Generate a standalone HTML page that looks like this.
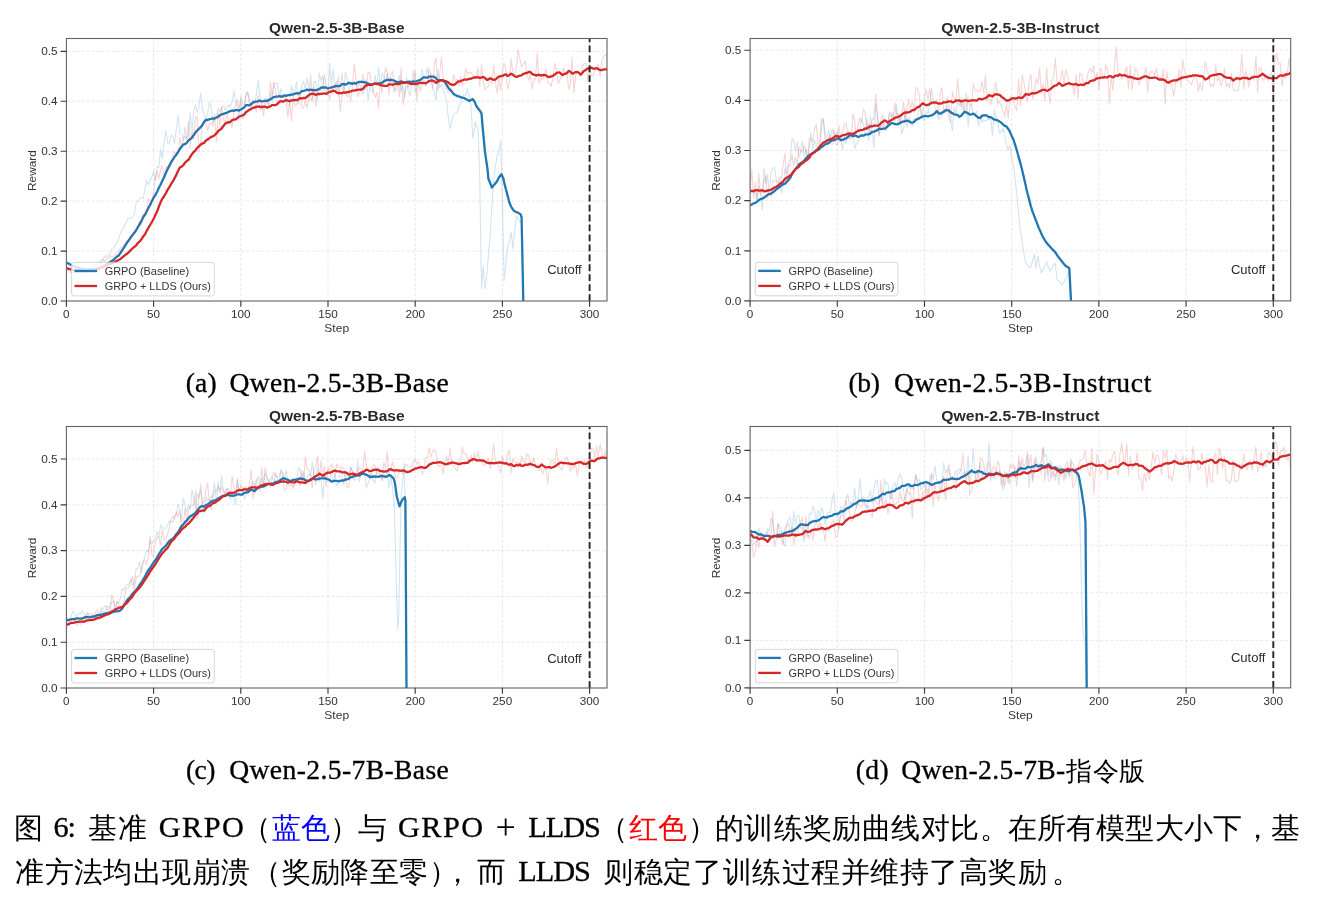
<!DOCTYPE html>
<html lang="zh"><head><meta charset="utf-8"><title>Figure 6</title>
<style>
html,body{margin:0;padding:0;background:#fff}
body{width:1318px;height:908px;position:relative;overflow:hidden;font-family:"Liberation Serif",serif;color:#000}
svg{position:absolute;left:0;top:0;display:block;will-change:transform}
.cap{position:absolute;left:0;top:0;width:1318px;height:908px;will-change:transform}
svg text{font-family:"Liberation Sans",sans-serif}
.t{position:absolute;white-space:nowrap;font-family:"Liberation Serif",serif}
.l{-webkit-text-stroke:.32px #000}
.c i{display:inline-block;font-style:normal;text-align:center;overflow:visible}
</style></head><body>
<svg width="1318" height="908" viewBox="0 0 1318 908" font-family="'Liberation Sans', sans-serif">
<g>
<path d="M153.6 301V38.5M240.8 301V38.5M328 301V38.5M415.2 301V38.5M502.4 301V38.5M589.6 301V38.5M66.4 251.1H607M66.4 201.1H607M66.4 151.2H607M66.4 101.2H607M66.4 51.3H607" stroke="#b0b0b0" stroke-opacity=".33" stroke-width=".85" stroke-dasharray="3.2 1.8" fill="none"/>
<clipPath id="clipa"><rect x="66.4" y="38.5" width="540.6" height="263.1"/></clipPath>
<g clip-path="url(#clipa)" fill="none" stroke-linejoin="round" stroke-linecap="butt">
<polyline points="66.4,267.1 68.1,269.7 69.9,269.7 71.6,273 73.4,272.1 75.1,272.1 76.9,273.6 78.6,270.4 80.4,270.4 82.1,271.9 83.8,270.2 85.6,270.2 87.3,272.5 89.1,268.8 90.8,268.4 92.6,267.4 94.3,267.5 96,265.4 97.8,264.2 99.5,261.4 101.3,260.5 103,258.9 104.8,255.7 106.5,256.5 108.3,254.8 110,254.4 111.7,248.9 113.5,247.7 115.2,245.7 117,242.7 118.7,238.6 120.5,233.4 122.2,229.7 124,226.6 125.7,223.9 127.4,219 129.2,218.8 130.9,218.1 132.7,217.1 134.4,214.1 136.2,201.8 137.9,201.3 139.6,199.1 141.4,197.7 143.1,198.7 144.9,189.6 146.6,180.1 148.4,184.9 150.1,180.5 151.9,177 153.6,170.6 155.3,181.2 157.1,166 158.8,167.6 160.6,148.9 162.3,158.6 164.1,142.7 165.8,130.4 167.6,142.6 169.3,142.9 171,135.2 172.8,136.4 174.5,143.5 176.3,129.5 178,115 179.8,134.1 181.5,133.7 183.2,140.3 185,127.4 186.7,138.8 188.5,135.6 190.2,113.2 192,129.8 193.7,110.8 195.5,104.7 197.2,112.7 198.9,107.3 200.7,92.8 202.4,109.5 204.2,113.2 205.9,121.9 207.7,112.8 209.4,102.3 211.2,106.9 212.9,122.2 214.6,120.3 216.4,116 218.1,108.2 219.9,111.6 221.6,107.3 223.4,106 225.1,110.4 226.8,107.6 228.6,104.9 230.3,107.1 232.1,102.2 233.8,90.8 235.6,101.6 237.3,105.7 239.1,119.5 240.8,100.5 242.5,118.7 244.3,112.9 246,92.6 247.8,92.8 249.5,98.7 251.3,111 253,99.5 254.8,103.2 256.5,93.4 258.2,80.4 260,97.9 261.7,106.2 263.5,109.1 265.2,98.6 267,98 268.7,104.5 270.4,92.3 272.2,102.2 273.9,82.7 275.7,83.3 277.4,83.5 279.2,97 280.9,88.9 282.7,94.6 284.4,96.9 286.1,96.4 287.9,104.4 289.6,105.3 291.4,85.8 293.1,93.4 294.9,89.2 296.6,81.8 298.4,104.3 300.1,95 301.8,85.1 303.6,81.7 305.3,88.3 307.1,78.2 308.8,87.6 310.6,101 312.3,98.1 314,81.4 315.8,82.1 317.5,100.8 319.3,73.2 321,80.7 322.8,75.8 324.5,91.1 326.3,90 328,95.8 329.7,63.3 331.5,85.2 333.2,69.6 335,88.3 336.7,81.2 338.5,96.6 340.2,85.4 342,73.5 343.7,92.3 345.4,72.5 347.2,78.7 348.9,90.4 350.7,85.6 352.4,85 354.2,81.3 355.9,85.2 357.6,87.5 359.4,83.2 361.1,90.2 362.9,94.1 364.6,85.5 366.4,79.1 368.1,100.1 369.9,86.6 371.6,90.8 373.3,92 375.1,75.3 376.8,86.1 378.6,67.8 380.3,85.1 382.1,73 383.8,77 385.6,82.1 387.3,73.2 389,82.4 390.8,77.8 392.5,83.9 394.3,92.6 396,84.3 397.8,83.1 399.5,75.6 401.2,91.6 403,84.3 404.7,98.1 406.5,77 408.2,90.6 410,96 411.7,80.7 413.5,70.4 415.2,92.2 416.9,87.6 418.7,83.2 420.4,84.4 422.2,69.3 423.9,78 425.7,77.3 427.4,67.6 429.2,81.1 430.9,73.5 432.6,88.3 434.4,93 436.1,100.1 437.9,69.4 439.6,88 441.4,84.4 443.1,90.1 444.8,94 446.6,101.2 448.3,116.9 450.1,128.7 451.8,121.5 452.7,116.2 453.6,114.8 455.3,113.2 457.1,112.5 458.8,106.2 460.5,103.9 462.3,96.2 464,94.3 465.8,95.4 467.5,88.8 469.3,97.2 471,106.2 472.8,138.2 474.5,127.6 475.4,121.2 476.2,125.7 478,128.7 479.7,176.2 481.5,288.5 483.2,266 485,289 486.7,276 488.4,255.6 490.2,234.6 491.9,206.5 493.7,180.6 495.4,166.2 497.2,156.2 498.9,151.2 500.7,140.2 502.4,201.1 504.1,281 505.9,263.5 507.6,247.1 509.4,241.1 511.1,232.1 512.9,248.6 514.6,231.1 516.4,216.1 518.1,218.6 519.8,222.1 521.6,221.1 523.3,301" stroke="#1f77b4" stroke-opacity=".2" stroke-width="1.1"/>
<polyline points="66.4,262.5 67.3,263 68.1,263.4 69,263.8 69.9,264.3 70.8,264.8 71.6,265.3 72.5,265.7 73.4,266.2 74.2,266.5 75.1,266.8 76,267.1 76.9,267.4 77.7,267.6 78.6,267.7 79.5,268.1 80.4,268.5 81.2,268.7 82.1,268.9 83,269 83.8,269 84.7,269.1 85.6,269.2 86.5,269.4 87.3,269.5 88.2,269.5 89.1,269.5 89.9,269.4 90.8,269.4 91.7,269.2 92.6,269.1 93.4,269.1 94.3,269.1 95.2,268.9 96,268.7 96.9,268.5 97.8,268.3 98.7,268.1 99.5,267.8 100.4,267.6 101.3,267.4 102.2,266.8 103,266.2 103.9,265.7 104.8,265.2 105.6,264.7 106.5,264.1 107.4,263.6 108.3,263 109.1,262.5 110,262.1 110.9,261.5 111.7,261 112.6,260.3 113.5,259.6 114.4,258.9 115.2,258.1 116.1,257.4 117,256.6 117.8,256.1 118.7,255.5 119.6,254.2 120.5,252.9 121.3,251.6 122.2,250.2 123.1,248.9 124,247.6 124.8,246.1 125.7,244.6 126.6,243.4 127.4,242.1 128.3,240.9 129.2,239.8 130.1,238.4 130.9,237.1 131.8,236 132.7,234.9 133.5,233.7 134.4,232.6 135.3,231.3 136.2,230.1 137,228.5 137.9,227 138.8,225.6 139.6,224.2 140.5,222.6 141.4,221 142.3,219.2 143.1,217.3 144,216 144.9,214.8 145.8,213.1 146.6,211.4 147.5,209.7 148.4,207.9 149.2,206.5 150.1,205 151,203.1 151.9,201.1 152.7,199.4 153.6,197.7 154.5,196.4 155.3,195.2 156.2,193.4 157.1,191.7 158,189.8 158.8,187.8 159.7,186.2 160.6,184.5 161.4,182.7 162.3,180.9 163.2,179.1 164.1,177.2 164.9,175.2 165.8,173.3 166.7,171.1 167.6,169 168.4,167.4 169.3,165.8 170.2,164.1 171,162.3 171.9,161 172.8,159.7 173.7,158.3 174.5,156.9 175.4,155.8 176.3,154.7 177.1,153.5 178,152.2 178.9,150.7 179.8,149.2 180.6,148 181.5,146.8 182.4,145.7 183.2,144.7 184.1,144.4 185,144.1 185.9,143.5 186.7,142.9 187.6,141.6 188.5,140.3 189.4,139.8 190.2,139.3 191.1,138.4 192,137.6 192.8,136.3 193.7,135.1 194.6,133.8 195.5,132.5 196.3,131.5 197.2,130.5 198.1,129.7 198.9,128.9 199.8,128 200.7,127.1 201.6,126 202.4,124.8 203.3,123.3 204.2,121.8 205,120.8 205.9,119.9 206.8,120 207.7,120 208.5,119.6 209.4,119.2 210.3,119 211.2,118.8 212,118.6 212.9,118.5 213.8,118.5 214.6,118.5 215.5,118 216.4,117.5 217.3,117.1 218.1,116.7 219,116 219.9,115.3 220.7,114.8 221.6,114.3 222.5,114.2 223.4,114 224.2,113.6 225.1,113.2 226,113 226.8,112.8 227.7,112.3 228.6,111.7 229.5,111.4 230.3,111.1 231.2,110.8 232.1,110.5 233,110.6 233.8,110.8 234.7,110.5 235.6,110.2 236.4,110.2 237.3,110.2 238.2,110.4 239.1,110.6 239.9,110.1 240.8,109.5 241.7,109 242.5,108.5 243.4,107.9 244.3,107.3 245.2,106.3 246,105.2 246.9,105.2 247.8,105.2 248.6,105.3 249.5,105.3 250.4,104.6 251.3,103.8 252.1,103.1 253,102.4 253.9,102.1 254.8,101.7 255.6,101.7 256.5,101.7 257.4,101.4 258.2,101.1 259.1,100.9 260,100.7 260.9,101 261.7,101.4 262.6,101.3 263.5,101.2 264.3,100.9 265.2,100.7 266.1,100.8 267,101 267.8,100.5 268.7,100 269.6,99.6 270.4,99.3 271.3,98.7 272.2,98.1 273.1,97.6 273.9,97.1 274.8,96.9 275.7,96.6 276.6,96.6 277.4,96.6 278.3,96.4 279.2,96.2 280,96.4 280.9,96.5 281.8,96.5 282.7,96.5 283.5,96 284.4,95.4 285.3,95.6 286.1,95.9 287,95.5 287.9,95.1 288.8,95.1 289.6,95.2 290.5,94.9 291.4,94.6 292.2,94.5 293.1,94.4 294,94.1 294.9,93.7 295.7,93.4 296.6,93.1 297.5,93.4 298.4,93.7 299.2,93.1 300.1,92.5 301,91.9 301.8,91.2 302.7,91 303.6,90.9 304.5,90.7 305.3,90.5 306.2,90 307.1,89.5 307.9,89.8 308.8,90.1 309.7,89.8 310.6,89.6 311.4,89.8 312.3,89.9 313.2,90.2 314,90.5 314.9,90.2 315.8,90 316.7,89.8 317.5,89.6 318.4,89.4 319.3,89.2 320.2,88.4 321,87.6 321.9,87.5 322.8,87.5 323.6,87.5 324.5,87.5 325.4,87.5 326.3,87.6 327.1,88 328,88.3 328.9,88.1 329.7,87.9 330.6,87.7 331.5,87.5 332.4,87.2 333.2,86.8 334.1,86.6 335,86.4 335.8,86.2 336.7,86 337.6,86.1 338.5,86.2 339.3,86 340.2,85.9 341.1,85 342,84.1 342.8,84.1 343.7,84.1 344.6,84.4 345.4,84.7 346.3,84.3 347.2,83.9 348.1,83.3 348.9,82.7 349.8,83.1 350.7,83.5 351.5,83.5 352.4,83.6 353.3,83.3 354.2,83.1 355,83.4 355.9,83.6 356.8,83 357.6,82.5 358.5,82.2 359.4,81.8 360.3,81.8 361.1,81.8 362,81.9 362.9,82 363.8,82.1 364.6,82.2 365.5,82.5 366.4,82.8 367.2,83.1 368.1,83.4 369,83.9 369.9,84.3 370.7,84.8 371.6,85.2 372.5,84.5 373.3,83.8 374.2,83.7 375.1,83.7 376,83.7 376.8,83.7 377.7,83.5 378.6,83.4 379.4,83.4 380.3,83.5 381.2,83.1 382.1,82.7 382.9,82 383.8,81.3 384.7,80.9 385.6,80.5 386.4,80.1 387.3,79.8 388.2,79.9 389,80.1 389.9,80 390.8,79.9 391.7,80 392.5,80.2 393.4,80.4 394.3,80.7 395.1,81.1 396,81.5 396.9,82 397.8,82.5 398.6,82.1 399.5,81.8 400.4,81.6 401.2,81.3 402.1,81.7 403,82.1 403.9,82.2 404.7,82.3 405.6,82.3 406.5,82.2 407.4,82 408.2,81.9 409.1,81.7 410,81.6 410.8,81.8 411.7,82 412.6,81.6 413.5,81.3 414.3,81.5 415.2,81.7 416.1,81.5 416.9,81.2 417.8,80.8 418.7,80.4 419.6,80.2 420.4,80 421.3,79.2 422.2,78.4 423,77.8 423.9,77.2 424.8,77.4 425.7,77.6 426.5,77.7 427.4,77.7 428.3,77.1 429.2,76.6 430,76.6 430.9,76.6 431.8,76.6 432.6,76.6 433.5,76.7 434.4,76.8 435.3,77.7 436.1,78.6 437,79.6 437.9,80.6 438.7,80.4 439.6,80.2 440.5,80.2 441.4,80.2 442.2,80.6 443.1,81.1 444,81.4 444.8,81.7 445.7,83.1 446.6,84.6 447.5,86.2 448.3,87.8 449.2,88.8 450.1,89.9 451,90.8 451.8,91.6 452.7,92.7 453.6,93.9 454.4,94.4 455.3,94.8 456.2,95.5 457.1,96.1 457.9,96.2 458.8,96.3 459.7,96.7 460.5,97.1 461.4,97.4 462.3,97.6 463.2,97.8 464,97.9 464.9,98.5 465.8,99.2 466.6,99.5 467.5,99.8 468.4,100.4 469.3,101.1 470.1,100.6 471,100.1 471.9,99.6 472.8,99.1 473.6,100.3 474.5,101.5 475.4,103.6 476.2,105.8 477.1,107 478,108.3 478.9,109.4 479.7,110.5 480.6,111.9 481.5,113.3 482.3,123.1 483.2,132.9 484.1,142.4 485,151.9 485.8,157.7 486.7,163.6 487.6,170 488.4,178.8 489.3,181 490.2,183.2 491.1,185.3 491.9,187.5 492.8,186.3 493.7,185.2 494.6,184.3 495.4,183.4 496.3,182.2 497.2,181 498,179.3 498.9,177.5 499.8,176.3 500.7,175 501.5,174.2 502.4,176.5 503.3,178.1 504.1,182 505,185.6 505.9,189.3 506.8,192.4 507.6,195.6 508.5,199 509.4,202.5 510.2,204.5 511.1,206.5 512,208 512.9,209.6 513.7,210.5 514.6,211.3 515.5,211.7 516.4,212.1 517.2,212.3 518.1,212.6 519,213.3 519.8,213.9 520.7,214.5 521.6,217.4 523.3,301" stroke="#1f77b4" stroke-width="2.3"/>
<polyline points="66.4,270.8 68.1,270.6 69.9,272.2 71.6,272.2 73.4,272.6 75.1,273.6 76.9,272.2 78.6,271.1 80.4,273.2 82.1,272.1 83.8,270.5 85.6,271.9 87.3,270 89.1,271 90.8,267.8 92.6,265.3 94.3,264.4 96,266 97.8,264.1 99.5,263.8 101.3,262.6 103,259.6 104.8,261.7 106.5,258 108.3,258.4 110,255.9 111.7,256.4 113.5,256.7 115.2,254.7 117,252.6 118.7,251.1 120.5,248 122.2,246.9 124,247 125.7,242 127.4,240.4 129.2,239.2 130.9,237.6 132.7,234.5 134.4,234 136.2,231.5 137.9,227.4 139.6,221.3 141.4,225 143.1,214.1 144.9,215.4 146.6,212.6 148.4,198.5 150.1,200.6 151.9,202.7 153.6,192.5 155.3,178.6 157.1,171.1 158.8,178.9 160.6,169.8 162.3,165.7 164.1,177.3 165.8,166.3 167.6,167.4 169.3,168.7 171,164.4 172.8,155 174.5,151.6 176.3,154.4 178,151.9 179.8,137.7 181.5,147.1 183.2,140.6 185,136.3 186.7,139.8 188.5,121.3 190.2,147.9 192,129.9 193.7,138.6 195.5,116.7 197.2,117.5 198.9,151.7 200.7,141.5 202.4,124.9 204.2,122.9 205.9,123 207.7,130.5 209.4,125 211.2,121.9 212.9,126.9 214.6,113.7 216.4,142 218.1,112.1 219.9,126.3 221.6,106.5 223.4,117.7 225.1,124.1 226.8,111.8 228.6,123.2 230.3,122.2 232.1,127.3 233.8,111.7 235.6,105.7 237.3,99.6 239.1,109.3 240.8,96.4 242.5,104.6 244.3,104.1 246,96.7 247.8,91.7 249.5,105.4 251.3,105 253,104.3 254.8,102 256.5,111.9 258.2,95.1 260,110.4 261.7,103.5 263.5,115.9 265.2,103.6 267,101.4 268.7,106.9 270.4,82 272.2,96.7 273.9,82.9 275.7,90.3 277.4,105.4 279.2,102.3 280.9,94.3 282.7,97.9 284.4,98.5 286.1,102.3 287.9,117.1 289.6,102 291.4,120.6 293.1,95.6 294.9,105.4 296.6,104.9 298.4,99.5 300.1,93.5 301.8,107.4 303.6,108 305.3,99.6 307.1,107.9 308.8,98 310.6,75.1 312.3,101.8 314,86.7 315.8,106.1 317.5,89.9 319.3,95.3 321,92.2 322.8,85.8 324.5,74.3 326.3,89 328,89.7 329.7,100.2 331.5,85.5 333.2,93.4 335,83.6 336.7,92.7 338.5,76.5 340.2,111.8 342,94.8 343.7,82.4 345.4,93.2 347.2,96.8 348.9,91.5 350.7,101.8 352.4,87 354.2,64.3 355.9,75.9 357.6,96.6 359.4,93.8 361.1,88.5 362.9,74.1 364.6,90.2 366.4,87.9 368.1,72.3 369.9,72.4 371.6,84.3 373.3,92.2 375.1,97.7 376.8,91.8 378.6,108.4 380.3,80.8 382.1,93.3 383.8,81.5 385.6,67.3 387.3,73.2 389,94.6 390.8,74.7 392.5,71.4 394.3,89.1 396,90.9 397.8,82.8 399.5,97 401.2,67.8 403,104.6 404.7,93 406.5,86.3 408.2,87.3 410,84.2 411.7,82.4 413.5,84.9 415.2,70.1 416.9,101 418.7,82.5 420.4,91.3 422.2,83 423.9,79.4 425.7,86.4 427.4,81.7 429.2,68.6 430.9,75.6 432.6,88.1 434.4,62.7 436.1,58 437.9,91.4 439.6,74.9 441.4,57.1 443.1,77.6 444.8,85.4 446.6,90 448.3,92.7 450.1,88.8 451.8,90.1 453.6,74.4 455.3,81.3 457.1,79.2 458.8,86 460.5,76.3 462.3,86 464,80.1 465.8,68.4 467.5,74.1 469.3,71.9 471,72.7 472.8,75 474.5,76.6 476.2,78.3 478,68.1 479.7,86.1 481.5,65 483.2,80.5 485,90.2 486.7,87.2 488.4,86.5 490.2,76.4 491.9,84.1 493.7,65.5 495.4,81.5 497.2,93.2 498.9,77.8 500.7,90.2 502.4,72.2 504.1,63.1 505.9,69 507.6,89 509.4,83.1 511.1,58.8 512.9,73.5 514.6,77.5 516.4,66.5 518.1,50.4 519.8,58.3 521.6,67.1 523.3,63.8 525.1,60.8 526.8,73.1 528.6,80.3 530.3,74.9 532,89 533.8,81.3 535.5,77.2 537.3,53.1 539,83.3 540.8,77.9 542.5,79.4 544.3,74.2 546,68.8 547.7,82.7 549.5,82.9 551.2,86.6 553,77.1 554.7,63.2 556.5,70.4 558.2,83.8 560,79.9 561.7,75.2 563.4,67.4 565.2,74.9 566.9,71.8 568.7,89.2 570.4,84.7 572.2,57.9 573.9,92.9 575.6,75.7 577.4,71.4 579.1,75.9 580.9,76.2 582.6,65.1 584.4,63 586.1,64 587.9,82.2 589.6,67.2 591.3,76 593.1,75.6 594.8,70.3 596.6,67.3 598.3,64.4 600.1,76.2 601.8,60.5 603.6,56.1 605.3,55.3 607,52.5" stroke="#d62728" stroke-opacity=".2" stroke-width="1.1"/>
<polyline points="66.4,268.3 67.3,268.5 68.1,268.6 69,268.8 69.9,269 70.8,269.3 71.6,269.5 72.5,269.7 73.4,269.8 74.2,269.9 75.1,269.9 76,270.1 76.9,270.2 77.7,270.3 78.6,270.4 79.5,270.4 80.4,270.4 81.2,270.5 82.1,270.5 83,270.7 83.8,270.9 84.7,270.9 85.6,271 86.5,271 87.3,271 88.2,271 89.1,270.9 89.9,270.8 90.8,270.6 91.7,270.5 92.6,270.5 93.4,270.2 94.3,270 95.2,269.7 96,269.4 96.9,269.2 97.8,269.1 98.7,268.8 99.5,268.6 100.4,268.3 101.3,268 102.2,267.5 103,267.1 103.9,266.7 104.8,266.3 105.6,265.9 106.5,265.5 107.4,265.2 108.3,264.8 109.1,264.4 110,264 110.9,263.7 111.7,263.3 112.6,263 113.5,262.7 114.4,262.1 115.2,261.6 116.1,261.2 117,260.8 117.8,260.4 118.7,260 119.6,259.4 120.5,258.9 121.3,258.2 122.2,257.5 123.1,256.7 124,256 124.8,255.3 125.7,254.6 126.6,254.1 127.4,253.5 128.3,252.6 129.2,251.8 130.1,250.8 130.9,249.9 131.8,249.1 132.7,248.2 133.5,247.6 134.4,246.9 135.3,246.2 136.2,245.4 137,244.2 137.9,243 138.8,242.2 139.6,241.5 140.5,240.4 141.4,239.3 142.3,238 143.1,236.6 144,235.5 144.9,234.4 145.8,232.7 146.6,231 147.5,229.4 148.4,227.9 149.2,226.4 150.1,225 151,223.5 151.9,222.1 152.7,220.5 153.6,218.8 154.5,217 155.3,215.1 156.2,213.2 157.1,211.2 158,209 158.8,206.8 159.7,204.6 160.6,202.3 161.4,200.5 162.3,198.7 163.2,197.5 164.1,196.3 164.9,194.8 165.8,193.3 166.7,191.6 167.6,189.9 168.4,188.6 169.3,187.2 170.2,185.7 171,184.1 171.9,182.7 172.8,181.3 173.7,179.9 174.5,178.4 175.4,176.6 176.3,174.9 177.1,173 178,171.2 178.9,169.3 179.8,167.5 180.6,167.1 181.5,166.7 182.4,166 183.2,165.3 184.1,164 185,162.7 185.9,161.9 186.7,161 187.6,160.4 188.5,159.8 189.4,158.3 190.2,156.8 191.1,155.4 192,154.1 192.8,153.1 193.7,152.1 194.6,151.2 195.5,150.4 196.3,149.1 197.2,147.8 198.1,147.1 198.9,146.4 199.8,145.5 200.7,144.6 201.6,144.1 202.4,143.6 203.3,143.1 204.2,142.7 205,141.6 205.9,140.6 206.8,140.1 207.7,139.6 208.5,138.8 209.4,138.1 210.3,137.5 211.2,136.8 212,136.6 212.9,136.4 213.8,135.8 214.6,135.2 215.5,134.3 216.4,133.4 217.3,132.3 218.1,131.2 219,130.5 219.9,129.8 220.7,129.2 221.6,128.5 222.5,127.2 223.4,126 224.2,124.9 225.1,123.9 226,123.2 226.8,122.6 227.7,122.5 228.6,122.5 229.5,122.2 230.3,122 231.2,121.1 232.1,120.2 233,119.9 233.8,119.5 234.7,119.5 235.6,119.4 236.4,118.8 237.3,118.1 238.2,117.3 239.1,116.5 239.9,116.3 240.8,116 241.7,115.7 242.5,115.5 243.4,115 244.3,114.4 245.2,113.3 246,112.1 246.9,111.5 247.8,110.8 248.6,110.3 249.5,109.7 250.4,109.2 251.3,108.7 252.1,108.3 253,107.8 253.9,107.6 254.8,107.5 255.6,107.1 256.5,106.7 257.4,106.6 258.2,106.5 259.1,106.7 260,106.9 260.9,107.1 261.7,107.2 262.6,106.9 263.5,106.6 264.3,106.7 265.2,106.7 266.1,107.1 267,107.6 267.8,107.3 268.7,107 269.6,106.6 270.4,106.2 271.3,105.6 272.2,105.1 273.1,105.1 273.9,105.2 274.8,105.1 275.7,105 276.6,104.5 277.4,104 278.3,103 279.2,101.9 280,101.5 280.9,101.2 281.8,101.4 282.7,101.7 283.5,101.4 284.4,101.1 285.3,100.6 286.1,100 287,100.3 287.9,100.6 288.8,100.9 289.6,101.3 290.5,100.8 291.4,100.4 292.2,100.3 293.1,100.1 294,100.1 294.9,100 295.7,100.1 296.6,100.2 297.5,99.7 298.4,99.2 299.2,98.7 300.1,98.2 301,98.4 301.8,98.6 302.7,98.2 303.6,97.9 304.5,98 305.3,98.1 306.2,97.4 307.1,96.6 307.9,95.9 308.8,95.2 309.7,94.6 310.6,94.1 311.4,93.9 312.3,93.7 313.2,93.8 314,94 314.9,94.4 315.8,94.9 316.7,94.5 317.5,94.2 318.4,94.1 319.3,94 320.2,93.9 321,93.9 321.9,93.8 322.8,93.6 323.6,93.5 324.5,93.3 325.4,93.6 326.3,93.9 327.1,93.3 328,92.6 328.9,92.2 329.7,91.8 330.6,91.7 331.5,91.6 332.4,91.1 333.2,90.7 334.1,91 335,91.2 335.8,91.9 336.7,92.6 337.6,92.8 338.5,93 339.3,93 340.2,93.1 341.1,93.1 342,93.1 342.8,92.7 343.7,92.3 344.6,92.6 345.4,92.8 346.3,92.4 347.2,92.1 348.1,92 348.9,91.9 349.8,91.6 350.7,91.4 351.5,91 352.4,90.7 353.3,90.7 354.2,90.6 355,90.4 355.9,90.1 356.8,90 357.6,89.9 358.5,89.7 359.4,89.6 360.3,89.6 361.1,89.7 362,89.3 362.9,88.8 363.8,87.7 364.6,86.7 365.5,86 366.4,85.3 367.2,85.1 368.1,84.9 369,84.8 369.9,84.7 370.7,84.8 371.6,84.9 372.5,84.4 373.3,84 374.2,83.8 375.1,83.7 376,83.7 376.8,83.8 377.7,84.2 378.6,84.5 379.4,84.7 380.3,85 381.2,85.3 382.1,85.7 382.9,85.7 383.8,85.6 384.7,85.8 385.6,85.9 386.4,85.9 387.3,85.8 388.2,85.1 389,84.3 389.9,84.3 390.8,84.3 391.7,84.5 392.5,84.8 393.4,84.5 394.3,84.2 395.1,83.9 396,83.6 396.9,83.8 397.8,84.1 398.6,84 399.5,84 400.4,83.5 401.2,83 402.1,82.9 403,82.7 403.9,82.8 404.7,82.8 405.6,82.4 406.5,82 407.4,82.5 408.2,83 409.1,83.3 410,83.7 410.8,83.9 411.7,84.1 412.6,83.9 413.5,83.7 414.3,83.9 415.2,84.1 416.1,84 416.9,84 417.8,83.4 418.7,82.9 419.6,82.8 420.4,82.8 421.3,82.9 422.2,82.9 423,83 423.9,83.1 424.8,83.2 425.7,83.3 426.5,82.7 427.4,82.2 428.3,81.6 429.2,81 430,80.8 430.9,80.5 431.8,80.5 432.6,80.6 433.5,81 434.4,81.4 435.3,82.1 436.1,82.9 437,82.3 437.9,81.7 438.7,81.3 439.6,80.9 440.5,80.5 441.4,80.1 442.2,80.2 443.1,80.3 444,80.6 444.8,81 445.7,81.2 446.6,81.4 447.5,81.9 448.3,82.4 449.2,83.2 450.1,84.1 451,84.3 451.8,84.6 452.7,84.8 453.6,84.9 454.4,84.5 455.3,84.1 456.2,83.2 457.1,82.4 457.9,81.8 458.8,81.3 459.7,81.3 460.5,81.3 461.4,80.8 462.3,80.3 463.2,80 464,79.7 464.9,79.7 465.8,79.6 466.6,79.5 467.5,79.5 468.4,79.2 469.3,78.9 470.1,78.8 471,78.7 471.9,78.3 472.8,77.9 473.6,77.7 474.5,77.5 475.4,77.5 476.2,77.4 477.1,77.3 478,77.2 478.9,77.5 479.7,77.8 480.6,77.7 481.5,77.6 482.3,77.3 483.2,76.9 484.1,77.4 485,78 485.8,78.9 486.7,79.8 487.6,79.9 488.4,79.1 489.3,78.8 490.2,78.4 491.1,78.7 491.9,79 492.8,79.4 493.7,79.9 494.6,79.7 495.4,79.6 496.3,78.7 497.2,77.7 498,77.2 498.9,76.6 499.8,76.4 500.7,76.2 501.5,76.1 502.4,76 503.3,75.5 504.1,74.9 505,74.6 505.9,74.3 506.8,75.2 507.6,76 508.5,75.5 509.4,75 510.2,74.4 511.1,73.7 512,74.2 512.9,74.6 513.7,75.4 514.6,76.2 515.5,76.5 516.4,76.8 517.2,76.8 518.1,76.1 519,75.9 519.8,75.7 520.7,75.5 521.6,75.3 522.5,74.6 523.3,73.9 524.2,73.6 525.1,73.4 525.9,73.1 526.8,72.9 527.7,72.5 528.6,72 529.4,72 530.3,71.9 531.2,72.9 532,73.8 532.9,74.3 533.8,74.8 534.7,74.9 535.5,75.1 536.4,75.6 537.3,75 538.2,74.8 539,74.7 539.9,75.1 540.8,75.6 541.6,75.5 542.5,75.1 543.4,75 544.3,74.9 545.1,75.1 546,75.4 546.9,76.1 547.7,76.7 548.6,76.9 549.5,77 550.4,76.6 551.2,76.3 552.1,76.2 553,75.9 553.8,75.2 554.7,74.5 555.6,73.8 556.5,73 557.3,72.7 558.2,72.5 559.1,72.3 560,72.8 560.8,73.7 561.7,74.5 562.6,75.1 563.4,74.4 564.3,74 565.2,73.6 566.1,73.4 566.9,73.1 567.8,72 568.7,70.9 569.5,71.3 570.4,71.7 571.3,72.6 572.2,73.6 573,73.4 573.9,73.1 574.8,72.6 575.6,72.1 576.5,72.1 577.4,72 578.3,72.5 579.1,73 580,73.8 580.9,74.6 581.8,73.6 582.6,72.5 583.5,71.4 584.4,70.7 585.2,70.2 586.1,69.7 587,69 587.9,68.5 588.7,68.2 589.6,68 590.5,67.8 591.3,67.6 592.2,68.1 593.1,68.7 594,68.7 594.8,68.7 595.7,68.4 596.6,68.2 597.4,68.6 598.3,69.1 599.2,69.7 600.1,70 600.9,70.1 601.8,70.2 602.7,69.8 603.6,69.4 604.4,69.4 605.3,69.4 606.2,69.3 607,69.1" stroke="#d62728" stroke-width="2.3"/>
</g>
<path d="M589.6 301V38.5" stroke="#262626" stroke-width="1.9" stroke-dasharray="6.8 3.15" fill="none"/>
<rect x="66.4" y="38.5" width="540.6" height="262.5" fill="none" stroke="#626262" stroke-width="1.1"/>
<path d="M66.4 301v5.8M153.6 301v5.8M240.8 301v5.8M328 301v5.8M415.2 301v5.8M502.4 301v5.8M589.6 301v5.8M66.4 301h-5.8M66.4 251.1h-5.8M66.4 201.1h-5.8M66.4 151.2h-5.8M66.4 101.2h-5.8M66.4 51.3h-5.8" stroke="#3c3c3c" stroke-width="1.15" fill="none"/>
<text x="63.1" y="317.9" font-size="10.4" fill="#333" textLength="6.5" lengthAdjust="spacingAndGlyphs">0</text>
<text x="147.1" y="317.9" font-size="10.4" fill="#333" textLength="13" lengthAdjust="spacingAndGlyphs">50</text>
<text x="231" y="317.9" font-size="10.4" fill="#333" textLength="19.6" lengthAdjust="spacingAndGlyphs">100</text>
<text x="318.2" y="317.9" font-size="10.4" fill="#333" textLength="19.6" lengthAdjust="spacingAndGlyphs">150</text>
<text x="405.4" y="317.9" font-size="10.4" fill="#333" textLength="19.6" lengthAdjust="spacingAndGlyphs">200</text>
<text x="492.6" y="317.9" font-size="10.4" fill="#333" textLength="19.6" lengthAdjust="spacingAndGlyphs">250</text>
<text x="579.8" y="317.9" font-size="10.4" fill="#333" textLength="19.6" lengthAdjust="spacingAndGlyphs">300</text>
<text x="41.2" y="304.7" font-size="10.4" fill="#333" textLength="16.3" lengthAdjust="spacingAndGlyphs">0.0</text>
<text x="41.2" y="254.8" font-size="10.4" fill="#333" textLength="16.3" lengthAdjust="spacingAndGlyphs">0.1</text>
<text x="41.2" y="204.8" font-size="10.4" fill="#333" textLength="16.3" lengthAdjust="spacingAndGlyphs">0.2</text>
<text x="41.2" y="154.9" font-size="10.4" fill="#333" textLength="16.3" lengthAdjust="spacingAndGlyphs">0.3</text>
<text x="41.2" y="104.9" font-size="10.4" fill="#333" textLength="16.3" lengthAdjust="spacingAndGlyphs">0.4</text>
<text x="41.2" y="55" font-size="10.4" fill="#333" textLength="16.3" lengthAdjust="spacingAndGlyphs">0.5</text>
<text x="324.3" y="332.3" font-size="11.2" fill="#333" textLength="24.8" lengthAdjust="spacingAndGlyphs">Step</text>
<g transform="translate(36.3 170.6) rotate(-90)"><text x="-20.3" y="0" font-size="11.2" fill="#333" textLength="40.6" lengthAdjust="spacingAndGlyphs">Reward</text></g>
<text x="268.9" y="33" font-size="14.0" font-weight="bold" fill="#2a2a2a" textLength="135.6" lengthAdjust="spacingAndGlyphs">Qwen-2.5-3B-Base</text>
<text x="547.2" y="273.9" font-size="11.9" fill="#2a2a2a" textLength="34.5" lengthAdjust="spacingAndGlyphs">Cutoff</text>
<rect x="71.6" y="262.4" width="142.7" height="33.5" rx="2.6" fill="#fff" fill-opacity=".8" stroke="#ccc" stroke-opacity=".8" stroke-width="1"/>
<path d="M74.5 271h22.6" stroke="#1f77b4" stroke-width="2.3" fill="none"/>
<path d="M74.5 286h22.6" stroke="#d62728" stroke-width="2.3" fill="none"/>
<text x="104.7" y="274.7" font-size="10.4" fill="#333" textLength="84.4" lengthAdjust="spacingAndGlyphs">GRPO (Baseline)</text>
<text x="104.7" y="290.2" font-size="10.4" fill="#333" textLength="106.1" lengthAdjust="spacingAndGlyphs">GRPO + LLDS (Ours)</text>
</g>
<g>
<path d="M837.3 300.9V38.5M924.5 300.9V38.5M1011.7 300.9V38.5M1098.9 300.9V38.5M1186.1 300.9V38.5M1273.3 300.9V38.5M750.1 250.8H1290.7M750.1 200.6H1290.7M750.1 150.5H1290.7M750.1 100.3H1290.7M750.1 50.2H1290.7" stroke="#b0b0b0" stroke-opacity=".33" stroke-width=".85" stroke-dasharray="3.2 1.8" fill="none"/>
<clipPath id="clipb"><rect x="750.1" y="38.5" width="540.6" height="263"/></clipPath>
<g clip-path="url(#clipb)" fill="none" stroke-linejoin="round" stroke-linecap="butt">
<polyline points="750.1,193.7 751.8,190.2 753.6,189.3 755.3,192.8 757.1,200.4 758.8,186 760.6,195.7 762.3,209.6 764.1,167.8 765.8,184 767.5,174.2 769.3,194.3 771,172.5 772.8,168.7 774.5,167.2 776.3,179.2 778,188.4 779.7,179.1 781.5,193.2 783.2,186.1 785,168.4 786.7,173.7 788.5,163.3 790.2,158.5 792,138.2 793.7,140.9 795.4,151.3 797.2,141.6 798.9,157.2 800.7,152.5 802.4,141 804.2,157 805.9,148.8 807.7,157.4 809.4,146 811.1,132.9 812.9,150 814.6,139.6 816.4,146.6 818.1,147.5 819.9,147.8 821.6,126 823.3,118.2 825.1,132.6 826.8,141.5 828.6,129.8 830.3,138.3 832.1,129.4 833.8,133.7 835.6,133.9 837.3,131.6 839,141.6 840.8,140.1 842.5,149.7 844.3,137.6 846,143.4 847.8,132.1 849.5,139.3 851.3,133.2 853,132.9 854.7,148.9 856.5,143.3 858.2,142.9 860,128.1 861.7,119.4 863.5,125.2 865.2,133.7 866.9,118.1 868.7,141 870.4,115.7 872.2,131.9 873.9,148.1 875.7,104.4 877.4,113.5 879.2,135.1 880.9,125.3 882.6,126.9 884.4,121.5 886.1,131.1 887.9,122.7 889.6,113.6 891.4,117.6 893.1,112.2 894.9,122.4 896.6,104 898.3,127.1 900.1,117.7 901.8,134.1 903.6,128.8 905.3,109 907.1,128.3 908.8,116.8 910.5,120.7 912.3,126.6 914,118.7 915.8,118.5 917.5,117.5 919.3,107.4 921,108.2 922.8,117.9 924.5,120.4 926.2,111 928,113.9 929.7,103.6 931.5,87.9 933.2,100.2 935,107.6 936.7,111.4 938.5,119 940.2,118.4 941.9,116.5 943.7,110 945.4,111.4 947.2,105.5 948.9,119 950.7,121 952.4,130.7 954.1,107.4 955.9,114.8 957.6,101.8 959.4,106.1 961.1,97.5 962.9,110.8 964.6,105.4 966.4,92.9 968.1,126.7 969.8,108.4 971.6,104.7 973.3,115.8 975.1,114.5 976.8,111.3 978.6,126.2 980.3,114.8 982.1,122.5 983.8,120 985.5,120.9 987.3,119.6 989,119.5 990.8,118.9 992.5,136 994.3,109.7 996,118 997.7,122.9 999.5,133.1 1001.2,132 1003,128.5 1004.7,135.4 1006.5,144.2 1008.2,150.5 1010,145.5 1011.7,158 1013.4,165.5 1015.2,179.3 1016.9,195.6 1018.7,214.9 1020.4,230.7 1022.2,242.2 1023.9,253.3 1025.7,262.8 1027.4,264.8 1029.1,267.8 1030.9,266.5 1032.6,260.8 1034.4,254.3 1036.1,268.3 1037.9,256.1 1039.6,265.8 1041.3,273 1043.1,269.8 1044.8,265.8 1046.6,261.8 1048.3,266.8 1050.1,271.1 1051.8,268.8 1053.6,264.5 1055.3,263.6 1057,279.5 1058.8,280.8 1060.5,282.8 1062.3,285.2 1064,281.8 1065.8,278.6 1067.5,275.8 1069.3,270.8 1071,300.9" stroke="#1f77b4" stroke-opacity=".2" stroke-width="1.1"/>
<polyline points="750.1,205.3 751,204.9 751.8,204.4 752.7,203.9 753.6,203.3 754.5,203.1 755.3,202.9 756.2,202.2 757.1,201.6 757.9,200.9 758.8,200.2 759.7,199.6 760.6,199 761.4,198.8 762.3,198.5 763.2,198.1 764.1,197.7 764.9,197 765.8,196.3 766.7,195.7 767.5,195.1 768.4,194.6 769.3,194.1 770.2,193.9 771,193.7 771.9,193 772.8,192.4 773.6,191.7 774.5,191.1 775.4,190.2 776.3,189.2 777.1,188.7 778,188.1 778.9,187.6 779.7,187 780.6,186.1 781.5,185.3 782.4,184.7 783.2,184.2 784.1,183.9 785,183.6 785.9,182.7 786.7,181.8 787.6,180.9 788.5,179.9 789.3,179 790.2,178 791.1,176.1 792,174.1 792.8,172.6 793.7,171.1 794.6,170.2 795.4,169.3 796.3,168.2 797.2,167.1 798.1,165.8 798.9,164.5 799.8,163.9 800.7,163.3 801.5,162.7 802.4,162.2 803.3,161.3 804.2,160.5 805,159.4 805.9,158.4 806.8,157.4 807.7,156.4 808.5,155.8 809.4,155.1 810.3,154.6 811.1,154 812,153.5 812.9,153.1 813.8,152.3 814.6,151.5 815.5,150.8 816.4,150.2 817.2,150.1 818.1,150 819,149.3 819.9,148.5 820.7,147.7 821.6,146.8 822.5,146.4 823.3,145.9 824.2,145.2 825.1,144.4 826,144 826.8,143.6 827.7,143.5 828.6,143.3 829.5,142.3 830.3,141.3 831.2,140.8 832.1,140.4 832.9,140.3 833.8,140.3 834.7,139.9 835.6,139.5 836.4,139.1 837.3,138.6 838.2,138.7 839,138.7 839.9,139.4 840.8,140.1 841.7,140 842.5,139.9 843.4,139.5 844.3,139 845.1,138.7 846,138.4 846.9,137.7 847.8,137.1 848.6,136.3 849.5,135.4 850.4,135.2 851.3,135 852.1,135.7 853,136.3 853.9,135.9 854.7,135.4 855.6,135.7 856.5,136 857.4,136.5 858.2,136.9 859.1,136.6 860,136.2 860.8,135.8 861.7,135.4 862.6,135.5 863.5,135.6 864.3,135.2 865.2,134.7 866.1,134.5 866.9,134.3 867.8,134.3 868.7,134.3 869.6,133.9 870.4,133.4 871.3,132.7 872.2,132 873.1,131.8 873.9,131.7 874.8,131.3 875.7,130.9 876.5,130.5 877.4,130.1 878.3,129.3 879.2,128.5 880,128.8 880.9,129 881.8,128.9 882.6,128.9 883.5,128.7 884.4,128.6 885.3,128.2 886.1,127.8 887,127 887.9,126.2 888.7,125.3 889.6,124.5 890.5,123.8 891.4,123 892.2,123.2 893.1,123.3 894,123.7 894.9,124.1 895.7,124.2 896.6,124.4 897.5,124.1 898.3,123.8 899.2,123.4 900.1,122.9 901,122.4 901.8,121.9 902.7,121.7 903.6,121.6 904.4,121.3 905.3,121 906.2,120.8 907.1,120.6 907.9,120.8 908.8,121.1 909.7,121.7 910.5,122.3 911.4,122.5 912.3,122.7 913.2,122.3 914,121.9 914.9,120.9 915.8,119.8 916.7,119.5 917.5,119.2 918.4,118.7 919.3,118.2 920.1,117.8 921,117.3 921.9,116.9 922.8,116.5 923.6,116.2 924.5,116 925.4,116 926.2,116.1 927.1,116.2 928,116.3 928.9,116.1 929.7,115.9 930.6,115.7 931.5,115.5 932.3,115 933.2,114.6 934.1,113.9 935,113.3 935.8,112.2 936.7,111.1 937.6,112 938.5,112.9 939.3,113.4 940.2,113.8 941.1,113.3 941.9,112.8 942.8,112.3 943.7,111.8 944.6,111 945.4,110.2 946.3,110.3 947.2,110.4 948,110.4 948.9,110.3 949.8,111.4 950.7,112.4 951.5,112.8 952.4,113.1 953.3,113.7 954.1,114.3 955,114.5 955.9,114.7 956.8,114.8 957.6,114.9 958.5,115.9 959.4,116.8 960.3,116.3 961.1,115.8 962,114.7 962.9,113.7 963.7,112.7 964.6,111.7 965.5,112.1 966.4,112.4 967.2,112.9 968.1,113.3 969,114 969.8,114.7 970.7,114.5 971.6,114.3 972.5,113.9 973.3,113.6 974.2,114.2 975.1,114.8 975.9,115.6 976.8,116.3 977.7,117.1 978.6,117.9 979.4,117.9 980.3,118 981.2,116.8 982.1,115.7 982.9,115.6 983.8,115.5 984.7,115.4 985.5,115.2 986.4,115.5 987.3,115.9 988.2,116.6 989,117.3 989.9,117.2 990.8,117.1 991.6,117.7 992.5,118.4 993.4,119 994.3,119.6 995.1,119.7 996,119.8 996.9,120.1 997.7,120.4 998.6,120.9 999.5,121.5 1000.4,122.1 1001.2,122.7 1002.1,123.5 1003,124.3 1003.9,125.1 1004.7,125.9 1005.6,126.2 1006.5,126.5 1007.3,127.7 1008.2,128.9 1009.1,130.4 1010,131.9 1010.8,133.9 1011.7,135.9 1012.6,137.7 1013.4,139.4 1014.3,142.3 1015.2,145.2 1016.1,147.9 1016.9,150.7 1017.8,154 1018.7,157.3 1019.5,160.2 1020.4,163.2 1021.3,166.7 1022.2,170.3 1023,173.9 1023.9,177.4 1024.8,181.4 1025.7,185.4 1026.5,189.2 1027.4,193 1028.3,196.2 1029.1,199.4 1030,202.9 1030.9,206.5 1031.8,209.2 1032.6,211.9 1033.5,214.1 1034.4,216.4 1035.2,218.6 1036.1,220.8 1037,223.2 1037.9,225.5 1038.7,227.6 1039.6,229.7 1040.5,231.6 1041.3,233.5 1042.2,235.4 1043.1,237.3 1044,238.7 1044.8,240.1 1045.7,241.5 1046.6,242.8 1047.5,243.8 1048.3,244.9 1049.2,245.8 1050.1,246.6 1050.9,247.7 1051.8,248.7 1052.7,249.6 1053.6,250.5 1054.4,251.4 1055.3,252.3 1056.2,253.7 1057,255.1 1057.9,256.3 1058.8,257.5 1059.7,258.6 1060.5,259.8 1061.4,260.8 1062.3,261.8 1063.1,263 1064,264.1 1064.9,265.1 1065.8,266 1066.6,266.5 1067.5,267 1068.4,267.5 1069.3,268.1 1071,300.9" stroke="#1f77b4" stroke-width="2.3"/>
<polyline points="750.1,190 751.8,169.4 753.6,197.4 755.3,182.5 757.1,199.4 758.8,173.4 760.6,194.2 762.3,191.1 764.1,180.6 765.8,176.1 767.5,197.4 769.3,188.8 771,197.1 772.8,180.6 774.5,181.1 776.3,181.4 778,182.2 779.7,176.7 781.5,178 783.2,164.3 785,153.5 786.7,184.8 788.5,165.4 790.2,165.6 792,154.3 793.7,166 795.4,157.1 797.2,164.7 798.9,147.1 800.7,151.4 802.4,152.4 804.2,145.8 805.9,150.1 807.7,160.8 809.4,138.3 811.1,139.1 812.9,141.3 814.6,128.5 816.4,124.4 818.1,144.8 819.9,141 821.6,118.8 823.3,120.3 825.1,140.7 826.8,144.1 828.6,137.7 830.3,135.1 832.1,144.8 833.8,129.9 835.6,144.1 837.3,145.3 839,125.6 840.8,139.9 842.5,132.5 844.3,124.7 846,122.7 847.8,134.1 849.5,130.9 851.3,139.1 853,113.3 854.7,121.2 856.5,135.5 858.2,124.1 860,118 861.7,121.5 863.5,108.9 865.2,112.3 866.9,129 868.7,123.6 870.4,134.1 872.2,118.9 873.9,119.3 875.7,94.1 877.4,117.4 879.2,136 880.9,120.9 882.6,114.3 884.4,130.2 886.1,128.5 887.9,122.3 889.6,111.9 891.4,113.5 893.1,118.9 894.9,102.6 896.6,115 898.3,114.2 900.1,122.1 901.8,116 903.6,101.9 905.3,123 907.1,107.5 908.8,99 910.5,108.4 912.3,101.4 914,112.9 915.8,87.9 917.5,88 919.3,95.7 921,116.6 922.8,113.6 924.5,97 926.2,89.4 928,99.8 929.7,88 931.5,105.2 933.2,102.8 935,102.8 936.7,99.5 938.5,117.2 940.2,92.2 941.9,87.5 943.7,110.7 945.4,112.8 947.2,96.8 948.9,106.4 950.7,122.5 952.4,91.7 954.1,97.5 955.9,103.2 957.6,78.7 959.4,98.2 961.1,107.4 962.9,99.8 964.6,110.8 966.4,108 968.1,96.9 969.8,105.7 971.6,104.4 973.3,83.6 975.1,90.6 976.8,90.2 978.6,91.8 980.3,91.1 982.1,80.8 983.8,93.8 985.5,75 987.3,101.1 989,94.2 990.8,105 992.5,95.9 994.3,89.2 996,82.3 997.7,104.6 999.5,100.5 1001.2,106.2 1003,111.8 1004.7,117 1006.5,104.1 1008.2,118.2 1010,97.1 1011.7,95.9 1013.4,102.1 1015.2,106.6 1016.9,110.8 1018.7,78.7 1020.4,106.1 1022.2,75.1 1023.9,82.7 1025.7,92.6 1027.4,101.7 1029.1,81.3 1030.9,74.3 1032.6,98.6 1034.4,91.6 1036.1,77.9 1037.9,84.1 1039.6,68.3 1041.3,93.4 1043.1,83.6 1044.8,101 1046.6,68.4 1048.3,93.1 1050.1,103.7 1051.8,80.3 1053.6,78 1055.3,58 1057,81.4 1058.8,81.9 1060.5,79.4 1062.3,70.5 1064,83.9 1065.8,70.3 1067.5,74.6 1069.3,84.2 1071,83.5 1072.7,85.7 1074.5,95.1 1076.2,74.4 1078,98.6 1079.7,73.4 1081.5,74.3 1083.2,82.7 1084.9,87.1 1086.7,80 1088.4,71.9 1090.2,68.6 1091.9,72.6 1093.7,65.6 1095.4,80.1 1097.2,72.4 1098.9,89.7 1100.6,67.8 1102.4,74 1104.1,79.5 1105.9,64.6 1107.6,69.7 1109.4,104.2 1111.1,77.4 1112.9,90.2 1114.6,63.3 1116.3,47.4 1118.1,76.1 1119.8,72.9 1121.6,79.1 1123.3,75.2 1125.1,72.8 1126.8,66.5 1128.5,88.4 1130.3,65 1132,89.6 1133.8,78 1135.5,68.4 1137.3,70.8 1139,84.8 1140.8,80.8 1142.5,77.8 1144.2,75.2 1146,66.8 1147.7,92.2 1149.5,74.5 1151.2,71 1153,71.3 1154.7,75 1156.5,68.4 1158.2,79.9 1159.9,76.8 1161.7,80.1 1163.4,69.2 1165.2,104.3 1166.9,71.9 1168.7,83.8 1170.4,82 1172.1,87.8 1173.9,96.1 1175.6,81.1 1177.4,82.5 1179.1,69.6 1180.9,87.5 1182.6,59.7 1184.4,71.1 1186.1,76.3 1187.8,80.9 1189.6,81.7 1191.3,85.1 1193.1,79.9 1194.8,75.3 1196.6,78.2 1198.3,91.7 1200.1,83 1201.8,90.6 1203.5,80.2 1205.3,61.2 1207,69.4 1208.8,75.8 1210.5,86.9 1212.3,84.2 1214,86.6 1215.7,64.8 1217.5,81.5 1219.2,76.7 1221,85.9 1222.7,80.8 1224.5,68.4 1226.2,87.1 1228,83.2 1229.7,88.5 1231.4,73.4 1233.2,90.7 1234.9,89.7 1236.7,90.6 1238.4,90.7 1240.2,73.5 1241.9,54.3 1243.7,89.2 1245.4,71 1247.1,76.7 1248.9,87.1 1250.6,76.7 1252.4,75.2 1254.1,80.4 1255.9,56.3 1257.6,91.7 1259.3,67.8 1261.1,68.3 1262.8,80.8 1264.6,78.8 1266.3,74.4 1268.1,80.8 1269.8,76.6 1271.6,72.6 1273.3,97.2 1275,62.4 1276.8,53.3 1278.5,64.3 1280.3,63.3 1282,86.3 1283.8,73.8 1285.5,78.8 1287.3,74.2 1289,57.9 1290.7,74.3" stroke="#d62728" stroke-opacity=".2" stroke-width="1.1"/>
<polyline points="750.1,190.9 751,190.9 751.8,191 752.7,191.1 753.6,191.2 754.5,190.7 755.3,190.3 756.2,190.2 757.1,190.2 757.9,190.4 758.8,190.6 759.7,190.6 760.6,190.5 761.4,190.4 762.3,190.2 763.2,190.7 764.1,191.3 764.9,191.2 765.8,191.2 766.7,190.9 767.5,190.5 768.4,190.4 769.3,190.2 770.2,190 771,189.8 771.9,189.3 772.8,188.8 773.6,188.1 774.5,187.5 775.4,187.1 776.3,186.7 777.1,186.2 778,185.8 778.9,184.8 779.7,183.9 780.6,183.3 781.5,182.7 782.4,182 783.2,181.2 784.1,180.1 785,178.9 785.9,178.3 786.7,177.6 787.6,177.3 788.5,176.9 789.3,176.2 790.2,175.5 791.1,174.6 792,173.8 792.8,172.7 793.7,171.6 794.6,170.3 795.4,169.1 796.3,168.6 797.2,168.1 798.1,167.4 798.9,166.7 799.8,165.6 800.7,164.4 801.5,163.8 802.4,163.2 803.3,162.5 804.2,161.8 805,161.2 805.9,160.6 806.8,160 807.7,159.3 808.5,158.5 809.4,157.6 810.3,156.1 811.1,154.5 812,153.8 812.9,153.1 813.8,152.7 814.6,152.3 815.5,151.5 816.4,150.6 817.2,149.6 818.1,148.6 819,147.5 819.9,146.3 820.7,145.4 821.6,144.5 822.5,143.5 823.3,142.6 824.2,142.2 825.1,141.8 826,141.3 826.8,140.8 827.7,140.3 828.6,139.9 829.5,139.4 830.3,138.9 831.2,138.8 832.1,138.7 832.9,138.1 833.8,137.6 834.7,136.8 835.6,136 836.4,136 837.3,136.1 838.2,136.6 839,137.1 839.9,136.6 840.8,136.2 841.7,135.7 842.5,135.3 843.4,135.2 844.3,135.1 845.1,134.8 846,134.5 846.9,134.2 847.8,133.9 848.6,133.6 849.5,133.4 850.4,133.6 851.3,133.8 852.1,133.9 853,134 853.9,133.5 854.7,133.1 855.6,132.4 856.5,131.7 857.4,131.3 858.2,130.9 859.1,130.5 860,130.1 860.8,130.1 861.7,130 862.6,129.8 863.5,129.5 864.3,129 865.2,128.5 866.1,128.5 866.9,128.5 867.8,127.9 868.7,127.3 869.6,126.7 870.4,126.2 871.3,126.3 872.2,126.4 873.1,126 873.9,125.6 874.8,125.6 875.7,125.6 876.5,125.7 877.4,125.8 878.3,125.5 879.2,125.1 880,124.2 880.9,123.2 881.8,122.5 882.6,121.7 883.5,121.1 884.4,120.4 885.3,120.7 886.1,121 887,121.8 887.9,122.6 888.7,121.8 889.6,121 890.5,120.5 891.4,120 892.2,119.6 893.1,119.2 894,118.5 894.9,117.8 895.7,117.5 896.6,117.3 897.5,117.1 898.3,116.8 899.2,116.4 900.1,115.9 901,115.3 901.8,114.6 902.7,113.9 903.6,113.3 904.4,112.9 905.3,112.5 906.2,112.5 907.1,112.6 907.9,112.4 908.8,112.3 909.7,111.9 910.5,111.5 911.4,110.8 912.3,110.1 913.2,110.1 914,110.1 914.9,109.3 915.8,108.6 916.7,107.8 917.5,107.1 918.4,106.9 919.3,106.6 920.1,105.8 921,105 921.9,104.1 922.8,103.2 923.6,103.8 924.5,104.4 925.4,104.8 926.2,105.2 927.1,105 928,104.9 928.9,104.4 929.7,104 930.6,103.4 931.5,102.8 932.3,102.7 933.2,102.6 934.1,102.5 935,102.5 935.8,102.7 936.7,102.8 937.6,103.2 938.5,103.5 939.3,103.6 940.2,103.6 941.1,103.4 941.9,103.3 942.8,102.7 943.7,102.2 944.6,102.3 945.4,102.4 946.3,102.2 947.2,102 948,101.6 948.9,101.3 949.8,101.3 950.7,101.3 951.5,101.8 952.4,102.3 953.3,102.1 954.1,101.8 955,101.1 955.9,100.5 956.8,100.6 957.6,100.6 958.5,100.5 959.4,100.4 960.3,100.9 961.1,101.4 962,101.1 962.9,100.8 963.7,100.6 964.6,100.5 965.5,100.4 966.4,100.3 967.2,100.7 968.1,101.1 969,100.9 969.8,100.7 970.7,100.6 971.6,100.4 972.5,100.3 973.3,100.2 974.2,100.3 975.1,100.5 975.9,100.6 976.8,100.7 977.7,99.8 978.6,99 979.4,99 980.3,99 981.2,99.2 982.1,99.4 982.9,99.1 983.8,98.7 984.7,98.5 985.5,98.2 986.4,97.5 987.3,96.8 988.2,95.9 989,95.1 989.9,95.4 990.8,95.6 991.6,96 992.5,96.4 993.4,95.6 994.3,94.8 995.1,94.5 996,94.2 996.9,94.4 997.7,94.6 998.6,94.7 999.5,94.8 1000.4,95.6 1001.2,96.5 1002.1,97.2 1003,97.8 1003.9,98.4 1004.7,99.1 1005.6,99.8 1006.5,100.5 1007.3,100.5 1008.2,100.5 1009.1,100.2 1010,99.9 1010.8,99.2 1011.7,98.5 1012.6,98.3 1013.4,98.1 1014.3,98.3 1015.2,98.6 1016.1,98.4 1016.9,98.3 1017.8,97.8 1018.7,97.4 1019.5,97.6 1020.4,97.8 1021.3,97.8 1022.2,97.8 1023,97.1 1023.9,96.3 1024.8,95.2 1025.7,94 1026.5,94.2 1027.4,94.4 1028.3,94.6 1029.1,94.8 1030,94.3 1030.9,93.8 1031.8,93.4 1032.6,93.1 1033.5,93.3 1034.4,93.5 1035.2,93.2 1036.1,93 1037,92.7 1037.9,92.3 1038.7,91.8 1039.6,91.3 1040.5,90.9 1041.3,90.5 1042.2,90.2 1043.1,89.9 1044,89.8 1044.8,89.7 1045.7,90.3 1046.6,90.8 1047.5,90.6 1048.3,90.4 1049.2,89.8 1050.1,89.2 1050.9,88.6 1051.8,87.9 1052.7,87.1 1053.6,86.3 1054.4,85.9 1055.3,85.5 1056.2,85.3 1057,85.1 1057.9,84.1 1058.8,83.1 1059.7,83.6 1060.5,84.1 1061.4,85 1062.3,85.8 1063.1,85.5 1064,85.2 1064.9,84.7 1065.8,84.2 1066.6,83.9 1067.5,83.7 1068.4,83.4 1069.3,83.2 1070.1,83.6 1071,84 1071.9,84.2 1072.7,84.3 1073.6,84.3 1074.5,84.3 1075.4,84.1 1076.2,83.9 1077.1,84.6 1078,85.2 1078.8,85 1079.7,84.8 1080.6,84.7 1081.5,84.6 1082.3,84.8 1083.2,85 1084.1,84.5 1084.9,84 1085.8,83.5 1086.7,83 1087.6,83.1 1088.4,83.1 1089.3,82.1 1090.2,81.1 1091.1,80.9 1091.9,80.7 1092.8,80.5 1093.7,80.4 1094.5,79.9 1095.4,79.4 1096.3,78.8 1097.2,78.3 1098,78.2 1098.9,78.2 1099.8,77.9 1100.6,77.6 1101.5,77.7 1102.4,77.7 1103.3,77.5 1104.1,77.2 1105,77.2 1105.9,77.3 1106.7,77.4 1107.6,77.4 1108.5,76.7 1109.4,76 1110.2,76.2 1111.1,76.4 1112,76.9 1112.9,77.4 1113.7,77.1 1114.6,76.2 1115.5,75.9 1116.3,75.5 1117.2,75.6 1118.1,75.8 1119,75.1 1119.8,74.5 1120.7,74.9 1121.6,75.4 1122.4,75.4 1123.3,75.4 1124.2,75.3 1125.1,75.2 1125.9,75.7 1126.8,76.2 1127.7,76.6 1128.5,77 1129.4,77 1130.3,76.9 1131.2,77.1 1132,77.2 1132.9,77.8 1133.8,78.3 1134.7,78.4 1135.5,78.4 1136.4,78.7 1137.3,79 1138.1,78.9 1139,78.8 1139.9,78.5 1140.8,78.1 1141.6,77.7 1142.5,77.4 1143.4,76.9 1144.2,76.4 1145.1,76.3 1146,76.3 1146.9,76.6 1147.7,77 1148.6,77.5 1149.5,78 1150.3,77.9 1151.2,77.9 1152.1,77.9 1153,77.9 1153.8,77.7 1154.7,77.5 1155.6,77.7 1156.5,77.8 1157.3,78.5 1158.2,79.1 1159.1,79.4 1159.9,79.6 1160.8,79.5 1161.7,79.4 1162.6,79.5 1163.4,79.6 1164.3,80 1165.2,80.4 1166,81.3 1166.9,82.1 1167.8,82.4 1168.7,82.7 1169.5,82.1 1170.4,81.5 1171.3,81.2 1172.1,80.8 1173,80.6 1173.9,80.4 1174.8,80.4 1175.6,80.4 1176.5,80.1 1177.4,79.9 1178.3,79.4 1179.1,78.9 1180,78.6 1180.9,78.2 1181.7,77.9 1182.6,77.6 1183.5,77.4 1184.4,77.3 1185.2,77.1 1186.1,77 1187,76.8 1187.8,76.6 1188.7,76.3 1189.6,76 1190.5,76.1 1191.3,76.2 1192.2,75.8 1193.1,75.4 1193.9,75.3 1194.8,75.3 1195.7,75.4 1196.6,75.4 1197.4,75.6 1198.3,75.7 1199.2,76 1200.1,76.3 1200.9,76.2 1201.8,76.1 1202.7,76.7 1203.5,77.4 1204.4,78.4 1205.3,79.5 1206.2,79.2 1207,78.9 1207.9,78.3 1208.8,77.8 1209.6,76.8 1210.5,75.8 1211.4,75.6 1212.3,75.3 1213.1,75.1 1214,74.9 1214.9,74.9 1215.7,74.9 1216.6,74.6 1217.5,74.2 1218.4,74.2 1219.2,74.2 1220.1,74.2 1221,74.1 1221.9,74.8 1222.7,75.5 1223.6,76.1 1224.5,76.7 1225.3,77.1 1226.2,77.4 1227.1,77.7 1228,77.9 1228.8,77.8 1229.7,77.6 1230.6,78 1231.4,78.4 1232.3,79.4 1233.2,80.5 1234.1,80 1234.9,79.4 1235.8,78.8 1236.7,78.2 1237.5,78.3 1238.4,78.4 1239.3,78.8 1240.2,79.2 1241,78.6 1241.9,78.1 1242.8,77.9 1243.7,77.8 1244.5,77.9 1245.4,78.1 1246.3,78 1247.1,78 1248,78.5 1248.9,79.1 1249.8,78.7 1250.6,78.2 1251.5,77.8 1252.4,77.5 1253.2,77.2 1254.1,76.9 1255,76.9 1255.9,76.8 1256.7,76.8 1257.6,76.8 1258.5,76.5 1259.3,76.2 1260.2,75.5 1261.1,74.9 1262,74.3 1262.8,73.8 1263.7,74.6 1264.6,75.5 1265.5,76.1 1266.3,76.7 1267.2,77.1 1268.1,77.5 1268.9,77.9 1269.8,78.2 1270.7,78.2 1271.6,78.3 1272.4,78.3 1273.3,78.3 1274.2,78.2 1275,78.1 1275.9,78.1 1276.8,78.1 1277.7,77.3 1278.5,76.5 1279.4,75.9 1280.3,75.4 1281.1,75.4 1282,75.5 1282.9,75.6 1283.8,75.7 1284.6,75.1 1285.5,74.5 1286.4,74.5 1287.3,74.4 1288.1,74.1 1289,73.8 1289.9,73.1 1290.7,72.3" stroke="#d62728" stroke-width="2.3"/>
</g>
<path d="M1273.3 300.9V38.5" stroke="#262626" stroke-width="1.9" stroke-dasharray="6.8 3.15" fill="none"/>
<rect x="750.1" y="38.5" width="540.6" height="262.4" fill="none" stroke="#626262" stroke-width="1.1"/>
<path d="M750.1 300.9v5.8M837.3 300.9v5.8M924.5 300.9v5.8M1011.7 300.9v5.8M1098.9 300.9v5.8M1186.1 300.9v5.8M1273.3 300.9v5.8M750.1 300.9h-5.8M750.1 250.8h-5.8M750.1 200.6h-5.8M750.1 150.5h-5.8M750.1 100.3h-5.8M750.1 50.2h-5.8" stroke="#3c3c3c" stroke-width="1.15" fill="none"/>
<text x="746.8" y="317.8" font-size="10.4" fill="#333" textLength="6.5" lengthAdjust="spacingAndGlyphs">0</text>
<text x="830.8" y="317.8" font-size="10.4" fill="#333" textLength="13" lengthAdjust="spacingAndGlyphs">50</text>
<text x="914.7" y="317.8" font-size="10.4" fill="#333" textLength="19.6" lengthAdjust="spacingAndGlyphs">100</text>
<text x="1001.9" y="317.8" font-size="10.4" fill="#333" textLength="19.6" lengthAdjust="spacingAndGlyphs">150</text>
<text x="1089.1" y="317.8" font-size="10.4" fill="#333" textLength="19.6" lengthAdjust="spacingAndGlyphs">200</text>
<text x="1176.3" y="317.8" font-size="10.4" fill="#333" textLength="19.6" lengthAdjust="spacingAndGlyphs">250</text>
<text x="1263.5" y="317.8" font-size="10.4" fill="#333" textLength="19.6" lengthAdjust="spacingAndGlyphs">300</text>
<text x="724.9" y="304.6" font-size="10.4" fill="#333" textLength="16.3" lengthAdjust="spacingAndGlyphs">0.0</text>
<text x="724.9" y="254.5" font-size="10.4" fill="#333" textLength="16.3" lengthAdjust="spacingAndGlyphs">0.1</text>
<text x="724.9" y="204.3" font-size="10.4" fill="#333" textLength="16.3" lengthAdjust="spacingAndGlyphs">0.2</text>
<text x="724.9" y="154.2" font-size="10.4" fill="#333" textLength="16.3" lengthAdjust="spacingAndGlyphs">0.3</text>
<text x="724.9" y="104" font-size="10.4" fill="#333" textLength="16.3" lengthAdjust="spacingAndGlyphs">0.4</text>
<text x="724.9" y="53.9" font-size="10.4" fill="#333" textLength="16.3" lengthAdjust="spacingAndGlyphs">0.5</text>
<text x="1008" y="332.2" font-size="11.2" fill="#333" textLength="24.8" lengthAdjust="spacingAndGlyphs">Step</text>
<g transform="translate(720 170.5) rotate(-90)"><text x="-20.3" y="0" font-size="11.2" fill="#333" textLength="40.6" lengthAdjust="spacingAndGlyphs">Reward</text></g>
<text x="941.3" y="33" font-size="14.0" font-weight="bold" fill="#2a2a2a" textLength="158.1" lengthAdjust="spacingAndGlyphs">Qwen-2.5-3B-Instruct</text>
<text x="1230.9" y="273.7" font-size="11.9" fill="#2a2a2a" textLength="34.5" lengthAdjust="spacingAndGlyphs">Cutoff</text>
<rect x="755.3" y="262.3" width="142.7" height="33.5" rx="2.6" fill="#fff" fill-opacity=".8" stroke="#ccc" stroke-opacity=".8" stroke-width="1"/>
<path d="M758.2 270.9h22.6" stroke="#1f77b4" stroke-width="2.3" fill="none"/>
<path d="M758.2 285.9h22.6" stroke="#d62728" stroke-width="2.3" fill="none"/>
<text x="788.4" y="274.6" font-size="10.4" fill="#333" textLength="84.4" lengthAdjust="spacingAndGlyphs">GRPO (Baseline)</text>
<text x="788.4" y="290.1" font-size="10.4" fill="#333" textLength="106.1" lengthAdjust="spacingAndGlyphs">GRPO + LLDS (Ours)</text>
</g>
<g>
<path d="M153.6 688V426.5M240.8 688V426.5M328 688V426.5M415.2 688V426.5M502.4 688V426.5M589.6 688V426.5M66.4 642.2H607M66.4 596.4H607M66.4 550.6H607M66.4 504.8H607M66.4 459H607" stroke="#b0b0b0" stroke-opacity=".33" stroke-width=".85" stroke-dasharray="3.2 1.8" fill="none"/>
<clipPath id="clipc"><rect x="66.4" y="426.5" width="540.6" height="262.1"/></clipPath>
<g clip-path="url(#clipc)" fill="none" stroke-linejoin="round" stroke-linecap="butt">
<polyline points="66.4,618.7 68.1,622.5 69.9,618.5 71.6,615 73.4,610.9 75.1,615 76.9,616.3 78.6,613.3 80.4,613.6 82.1,611.1 83.8,612.7 85.6,616.3 87.3,614.7 89.1,614.6 90.8,613.7 92.6,613.5 94.3,616.4 96,620.7 97.8,615.1 99.5,619.6 101.3,611.3 103,610.9 104.8,616.8 106.5,607.2 108.3,606.1 110,608.8 111.7,602.2 113.5,600.9 115.2,612.9 117,602.5 118.7,602.4 120.5,597.8 122.2,588.9 124,590.1 125.7,585.5 127.4,584.8 129.2,583.7 130.9,578.8 132.7,585.7 134.4,581.3 136.2,568.1 137.9,568.7 139.6,561.8 141.4,572.5 143.1,561.7 144.9,556.8 146.6,550.1 148.4,551.8 150.1,540 151.9,544.1 153.6,541 155.3,538.4 157.1,531.5 158.8,537 160.6,524.9 162.3,527.6 164.1,528.3 165.8,528.1 167.6,524.6 169.3,521.4 171,521.3 172.8,522.7 174.5,515.3 176.3,515.3 178,504.3 179.8,510.1 181.5,521.6 183.2,498.2 185,504.8 186.7,512 188.5,505 190.2,509.1 192,489.4 193.7,498.2 195.5,509 197.2,493 198.9,498.1 200.7,484 202.4,504.3 204.2,512.6 205.9,497.7 207.7,499.8 209.4,499.5 211.2,509.6 212.9,491.9 214.6,482.5 216.4,503.7 218.1,482.6 219.9,493.5 221.6,475.9 223.4,489.9 225.1,495.3 226.8,488.2 228.6,492.6 230.3,499.6 232.1,490.4 233.8,497.1 235.6,504.6 237.3,479.7 239.1,494.4 240.8,495.2 242.5,488 244.3,498.9 246,496.3 247.8,490.1 249.5,490.6 251.3,487.8 253,481.2 254.8,489.2 256.5,479.8 258.2,476.6 260,486.4 261.7,477.9 263.5,485.6 265.2,473.2 267,477.5 268.7,479.9 270.4,487.5 272.2,476.9 273.9,482 275.7,472.8 277.4,478.6 279.2,483.1 280.9,471.5 282.7,472.3 284.4,480.8 286.1,470.3 287.9,480.9 289.6,482 291.4,480.2 293.1,486.1 294.9,483.1 296.6,479.5 298.4,467.7 300.1,469.1 301.8,482.6 303.6,471.8 305.3,481.8 307.1,477.6 308.8,473.3 310.6,476.4 312.3,462.4 314,475.9 315.8,484.7 317.5,468.4 319.3,479.6 321,479.8 322.8,498.4 324.5,474.6 326.3,478.1 328,479.9 329.7,478.6 331.5,472.2 333.2,481.6 335,475.1 336.7,486 338.5,482.6 340.2,471.6 342,474.3 343.7,484.8 345.4,473.5 347.2,475.7 348.9,477.4 350.7,467.2 352.4,471.9 354.2,480.4 355.9,479 357.6,461.1 359.4,482 361.1,471.1 362.9,470.6 364.6,473.5 366.4,488 368.1,483.1 369.9,479.2 371.6,473.2 373.3,480.8 375.1,483 376.8,468.6 378.6,467.9 380.3,473.3 382.1,480.4 383.8,474.3 385.6,476 387.3,471.6 389,487.5 390.8,477.3 392.5,486.5 394.3,504.8 396,573.5 397.8,629.8 398.8,614.7 399.5,577.2 400,550.6 401.2,495.6 403,477.3 404.2,462.8 404.7,485.4 405.3,504.8 406.5,688" stroke="#1f77b4" stroke-opacity=".2" stroke-width="1.1"/>
<polyline points="66.4,619.9 67.3,620 68.1,620.1 69,619.9 69.9,619.7 70.8,619.5 71.6,619.2 72.5,619.2 73.4,619.1 74.2,619.1 75.1,619 76,618.6 76.9,618.3 77.7,618.4 78.6,618.4 79.5,618.6 80.4,618.7 81.2,618.6 82.1,618.5 83,618.1 83.8,617.8 84.7,617.4 85.6,617.1 86.5,617.1 87.3,617.1 88.2,617.2 89.1,617.3 89.9,617.3 90.8,617.2 91.7,616.9 92.6,616.6 93.4,616.5 94.3,616.4 95.2,616.1 96,615.8 96.9,615.4 97.8,615.1 98.7,615.1 99.5,615 100.4,614.9 101.3,614.7 102.2,614.5 103,614.2 103.9,613.8 104.8,613.5 105.6,613.5 106.5,613.5 107.4,613.2 108.3,613 109.1,612.7 110,612.5 110.9,612.5 111.7,612.5 112.6,612.2 113.5,611.9 114.4,611.7 115.2,611.4 116.1,611.4 117,611.3 117.8,611.2 118.7,611.2 119.6,610.7 120.5,610.2 121.3,609.4 122.2,608.6 123.1,606.9 124,605.2 124.8,603.9 125.7,602.6 126.6,601.2 127.4,599.8 128.3,598.9 129.2,598 130.1,597 130.9,596 131.8,594.8 132.7,593.6 133.5,592.7 134.4,591.9 135.3,591 136.2,590.1 137,588.9 137.9,587.7 138.8,586.3 139.6,584.9 140.5,583.7 141.4,582.6 142.3,581.1 143.1,579.6 144,578 144.9,576.5 145.8,574.8 146.6,573.2 147.5,571.7 148.4,570.2 149.2,569.1 150.1,567.9 151,566.6 151.9,565.2 152.7,563.9 153.6,562.5 154.5,561.3 155.3,560.1 156.2,558.8 157.1,557.5 158,555.9 158.8,554.2 159.7,552.9 160.6,551.5 161.4,550.1 162.3,548.8 163.2,548.1 164.1,547.4 164.9,546.6 165.8,545.7 166.7,544.5 167.6,543.3 168.4,542.2 169.3,541 170.2,540.4 171,539.8 171.9,539.3 172.8,538.7 173.7,537.8 174.5,536.8 175.4,535.5 176.3,534.2 177.1,533.2 178,532.3 178.9,530.7 179.8,529.1 180.6,527.6 181.5,526.2 182.4,525.4 183.2,524.7 184.1,523.4 185,522.2 185.9,521.4 186.7,520.5 187.6,519.4 188.5,518.2 189.4,517.2 190.2,516.3 191.1,515.9 192,515.6 192.8,514.8 193.7,514.1 194.6,513.5 195.5,512.8 196.3,511.7 197.2,510.6 198.1,509.5 198.9,508.4 199.8,507.5 200.7,506.6 201.6,506.3 202.4,506.1 203.3,506.4 204.2,506.8 205,506 205.9,505.2 206.8,504.8 207.7,504.3 208.5,503.8 209.4,503.2 210.3,502.4 211.2,501.5 212,501.1 212.9,500.8 213.8,500.6 214.6,500.5 215.5,500.1 216.4,499.8 217.3,499.2 218.1,498.5 219,498 219.9,497.5 220.7,497 221.6,496.5 222.5,496.5 223.4,496.4 224.2,495.9 225.1,495.4 226,495.2 226.8,495.1 227.7,495.1 228.6,495.1 229.5,495.3 230.3,495.5 231.2,495.7 232.1,495.9 233,495.7 233.8,495.6 234.7,495.3 235.6,495 236.4,494.7 237.3,494.4 238.2,494.4 239.1,494.3 239.9,494.5 240.8,494.7 241.7,494.6 242.5,494.5 243.4,493.7 244.3,492.9 245.2,492.7 246,492.5 246.9,492.4 247.8,492.3 248.6,491.6 249.5,490.8 250.4,490.3 251.3,489.7 252.1,490 253,490.3 253.9,490.7 254.8,491.1 255.6,490 256.5,489 257.4,488.4 258.2,487.8 259.1,487.5 260,487.2 260.9,486.9 261.7,486.6 262.6,486.5 263.5,486.5 264.3,486.2 265.2,485.9 266.1,485.3 267,484.7 267.8,484.3 268.7,483.8 269.6,483.8 270.4,483.7 271.3,483.6 272.2,483.6 273.1,483.4 273.9,483.2 274.8,482.6 275.7,482 276.6,481.9 277.4,481.9 278.3,481.4 279.2,480.9 280,480.3 280.9,479.8 281.8,479.1 282.7,478.5 283.5,478.4 284.4,478.4 285.3,478.8 286.1,479.2 287,479.5 287.9,479.8 288.8,480.4 289.6,481 290.5,480.8 291.4,480.6 292.2,480.3 293.1,479.9 294,479.8 294.9,479.6 295.7,479.7 296.6,479.7 297.5,479.4 298.4,479.1 299.2,478.7 300.1,478.4 301,478.7 301.8,478.9 302.7,478.9 303.6,478.9 304.5,479.6 305.3,480.3 306.2,480.5 307.1,480.7 307.9,480.7 308.8,480.7 309.7,480.1 310.6,479.5 311.4,479 312.3,478.6 313.2,478.6 314,478.7 314.9,479.1 315.8,479.5 316.7,479.3 317.5,479.1 318.4,478.9 319.3,478.6 320.2,478.4 321,478.3 321.9,478.4 322.8,478.4 323.6,478.4 324.5,478.4 325.4,478.5 326.3,478.7 327.1,479 328,479.3 328.9,479.8 329.7,480.2 330.6,480.8 331.5,481.5 332.4,481.3 333.2,481.1 334.1,480.9 335,480.8 335.8,480.8 336.7,480.8 337.6,481 338.5,481.3 339.3,481.1 340.2,480.9 341.1,480.7 342,480.5 342.8,480.5 343.7,480.6 344.6,480.1 345.4,479.5 346.3,479.4 347.2,479.3 348.1,479 348.9,478.7 349.8,477.9 350.7,477.1 351.5,477.1 352.4,477 353.3,476.5 354.2,476.1 355,475.8 355.9,475.5 356.8,475.5 357.6,475.4 358.5,475.4 359.4,475.5 360.3,474.8 361.1,474.2 362,473.9 362.9,473.5 363.8,473.8 364.6,474.1 365.5,474.4 366.4,474.8 367.2,475.2 368.1,475.7 369,476.3 369.9,477 370.7,477 371.6,477 372.5,476.7 373.3,476.5 374.2,476.5 375.1,476.5 376,476.6 376.8,476.7 377.7,476.7 378.6,476.8 379.4,476.5 380.3,476.2 381.2,476 382.1,475.9 382.9,476.1 383.8,476.3 384.7,476.5 385.6,476.8 386.4,476.6 387.3,476.3 388.2,475.7 389,475.1 389.9,475.4 390.8,475.7 391.7,476.6 392.5,477.5 393.4,478.1 394.3,480.7 395.1,484.1 396,490.9 396.9,497 397.8,500.1 398.6,503.2 399.5,506.3 400.4,504.2 401.2,502.1 402.1,500.3 403,499.1 403.9,498.1 404.7,497.2 405.4,500.6 406.5,688" stroke="#1f77b4" stroke-width="2.3"/>
<polyline points="66.4,625.7 68.1,623.3 69.9,623 71.6,618.3 73.4,620.4 75.1,620.1 76.9,625.3 78.6,620.3 80.4,624.5 82.1,618.6 83.8,618.1 85.6,619 87.3,612 89.1,616.5 90.8,615.6 92.6,616.1 94.3,616.2 96,611.2 97.8,609.9 99.5,617.7 101.3,607.9 103,608.7 104.8,605.8 106.5,606.6 108.3,612 110,609.8 111.7,595 113.5,600.8 115.2,608.6 117,601 118.7,604.1 120.5,609.5 122.2,608.7 124,601.8 125.7,588.8 127.4,588.1 129.2,587 130.9,581.3 132.7,576.6 134.4,591.3 136.2,576.4 137.9,576.5 139.6,575.8 141.4,567.8 143.1,561.7 144.9,559.8 146.6,565 148.4,555.6 150.1,535.8 151.9,554.6 153.6,557 155.3,541.8 157.1,537.7 158.8,536.6 160.6,545.5 162.3,529.1 164.1,539.8 165.8,540.4 167.6,534.3 169.3,527.5 171,518.4 172.8,516.4 174.5,519.2 176.3,511.6 178,516.8 179.8,510.8 181.5,526.2 183.2,526.3 185,508.4 186.7,520.9 188.5,510.8 190.2,506.3 192,506.1 193.7,503.9 195.5,490.8 197.2,519.1 198.9,498.1 200.7,490 202.4,504.1 204.2,500.3 205.9,491.1 207.7,482.5 209.4,504.1 211.2,496 212.9,497.2 214.6,490.6 216.4,491.5 218.1,485.8 219.9,491.3 221.6,487 223.4,492.1 225.1,492.6 226.8,489 228.6,488.6 230.3,495.2 232.1,476.2 233.8,487.8 235.6,496.2 237.3,479 239.1,492.2 240.8,484.7 242.5,489.2 244.3,487.2 246,486.3 247.8,489.5 249.5,484.1 251.3,470 253,499.3 254.8,483.1 256.5,480 258.2,489.6 260,491.4 261.7,467 263.5,484.5 265.2,467.8 267,478.6 268.7,481.9 270.4,478.8 272.2,476.9 273.9,472.1 275.7,476.2 277.4,477.1 279.2,476.4 280.9,469.3 282.7,475.5 284.4,490.7 286.1,489.2 287.9,481.6 289.6,486.6 291.4,484.1 293.1,488.2 294.9,484.2 296.6,480.5 298.4,477.9 300.1,485.5 301.8,470.6 303.6,482.8 305.3,456.8 307.1,468.8 308.8,469.5 310.6,474.1 312.3,488.3 314,468.9 315.8,466.6 317.5,456.1 319.3,481.5 321,460.9 322.8,475.2 324.5,466.3 326.3,486.8 328,467.5 329.7,470.8 331.5,463.9 333.2,468.3 335,477.3 336.7,463.8 338.5,466.4 340.2,468.3 342,467.1 343.7,468.4 345.4,477.9 347.2,487.7 348.9,487.2 350.7,467.3 352.4,470.8 354.2,474.2 355.9,476.3 357.6,470.3 359.4,467.4 361.1,468.2 362.9,470.5 364.6,451.3 366.4,465 368.1,470.9 369.9,476 371.6,473 373.3,464.7 375.1,466.2 376.8,474.2 378.6,473 380.3,475.4 382.1,480.4 383.8,462.6 385.6,467.5 387.3,452 389,473.7 390.8,469.3 392.5,462.2 394.3,470.2 396,478.8 397.8,477.1 399.5,471.3 401.2,470.8 403,474.3 404.7,466 406.5,464.1 408.2,466.3 410,466.5 411.7,467.5 413.5,461.5 415.2,458.6 416.9,464.4 418.7,461.7 420.4,467 422.2,474.4 423.9,471.2 425.7,457.8 427.4,457.8 429.2,447.7 430.9,457.1 432.6,451.7 434.4,449.7 436.1,453.5 437.9,466.6 439.6,465.8 441.4,465.3 443.1,473.6 444.8,462.6 446.6,456.5 448.3,464.9 450.1,447.8 451.8,464.8 453.6,466.4 455.3,468.3 457.1,471.3 458.8,461.2 460.5,460.7 462.3,447.4 464,453.8 465.8,453.4 467.5,457.1 469.3,464.1 471,455.4 472.8,462.8 474.5,453.3 476.2,462.2 478,451.9 479.7,459.3 481.5,459.9 483.2,465 485,465.3 486.7,461.5 488.4,458.5 490.2,468.6 491.9,459.4 493.7,444 495.4,462.3 497.2,463.7 498.9,467.2 500.7,473.1 502.4,455.9 504.1,464.6 505.9,463.8 507.6,454 509.4,450 511.1,473.3 512.9,459.3 514.6,461.5 516.4,462.9 518.1,462.7 519.8,466.8 521.6,455.9 523.3,461.9 525.1,461.9 526.8,453.6 528.6,455.5 530.3,460.4 532,464.7 533.8,457.6 535.5,466.6 537.3,468.4 539,470.7 540.8,466.6 542.5,474.2 544.3,469.3 546,469.2 547.7,483.5 549.5,466.8 551.2,459.9 553,460.6 554.7,465.5 556.5,448.3 558.2,461.9 560,467.8 561.7,469.8 563.4,464.5 565.2,458.5 566.9,457.2 568.7,463.2 570.4,471.5 572.2,466.6 573.9,468 575.6,463.8 577.4,476 579.1,463.9 580.9,460.5 582.6,465.5 584.4,459.8 586.1,466.7 587.9,467.8 589.6,460.9 591.3,448.3 593.1,448.9 594.8,458.4 596.6,446.2 598.3,456.5 600.1,444.4 601.8,452.2 603.6,459.2 605.3,450.9 607,461.7" stroke="#d62728" stroke-opacity=".2" stroke-width="1.1"/>
<polyline points="66.4,624.6 67.3,624.6 68.1,624.5 69,624 69.9,623.4 70.8,623.2 71.6,622.9 72.5,622.8 73.4,622.8 74.2,622.6 75.1,622.4 76,622.1 76.9,621.9 77.7,621.8 78.6,621.8 79.5,621.7 80.4,621.6 81.2,621.6 82.1,621.7 83,621.7 83.8,621.8 84.7,621.4 85.6,621 86.5,620.6 87.3,620.3 88.2,620.3 89.1,620.2 89.9,620.2 90.8,620.1 91.7,620 92.6,619.9 93.4,619.7 94.3,619.6 95.2,619.1 96,618.6 96.9,618.3 97.8,618 98.7,617.8 99.5,617.6 100.4,617.3 101.3,617.1 102.2,616.6 103,616.2 103.9,615.8 104.8,615.4 105.6,615 106.5,614.7 107.4,614.5 108.3,614.3 109.1,613.8 110,613.4 110.9,612.4 111.7,611.4 112.6,611 113.5,610.5 114.4,610.1 115.2,609.6 116.1,609.1 117,608.7 117.8,608.2 118.7,607.8 119.6,607.5 120.5,607.3 121.3,607.2 122.2,607.2 123.1,606.3 124,605.4 124.8,604.6 125.7,603.8 126.6,603.1 127.4,602.3 128.3,601.2 129.2,600.1 130.1,599.1 130.9,598.2 131.8,597.2 132.7,596.2 133.5,594.7 134.4,593.2 135.3,592.2 136.2,591.2 137,590.4 137.9,589.6 138.8,588.6 139.6,587.5 140.5,586.4 141.4,585.2 142.3,584 143.1,582.7 144,581.3 144.9,579.9 145.8,578.6 146.6,577.3 147.5,575.9 148.4,574.6 149.2,573.1 150.1,571.6 151,570.3 151.9,569 152.7,567.8 153.6,566.7 154.5,565.5 155.3,564.4 156.2,562.8 157.1,561.2 158,559.8 158.8,558.5 159.7,557.2 160.6,555.9 161.4,554.6 162.3,553.3 163.2,552.4 164.1,551.5 164.9,550.5 165.8,549.5 166.7,548.8 167.6,548 168.4,546.5 169.3,545 170.2,543.4 171,541.8 171.9,540.9 172.8,540.1 173.7,539.2 174.5,538.4 175.4,537.1 176.3,535.8 177.1,535 178,534.2 178.9,533.2 179.8,532.3 180.6,531 181.5,529.7 182.4,528.9 183.2,528.1 184.1,527.5 185,527 185.9,525.9 186.7,524.8 187.6,524.1 188.5,523.5 189.4,522.6 190.2,521.8 191.1,520.7 192,519.5 192.8,518.6 193.7,517.7 194.6,516.4 195.5,515 196.3,514.3 197.2,513.6 198.1,512.4 198.9,511.1 199.8,511.1 200.7,511.1 201.6,510.7 202.4,510.4 203.3,510.5 204.2,510.7 205,509.6 205.9,508.5 206.8,507.5 207.7,506.5 208.5,506.4 209.4,506.2 210.3,505.5 211.2,504.8 212,504 212.9,503.2 213.8,503.1 214.6,502.9 215.5,502.1 216.4,501.4 217.3,500.9 218.1,500.5 219,499.9 219.9,499.2 220.7,498.3 221.6,497.4 222.5,496.5 223.4,495.7 224.2,495.8 225.1,496 226,495.2 226.8,494.4 227.7,493.7 228.6,493.1 229.5,493 230.3,492.9 231.2,492.9 232.1,492.9 233,492.8 233.8,492.7 234.7,492.4 235.6,492.2 236.4,491.4 237.3,490.7 238.2,490.4 239.1,490 239.9,490.1 240.8,490.1 241.7,490.2 242.5,490.2 243.4,489.7 244.3,489.2 245.2,489.4 246,489.5 246.9,489.5 247.8,489.6 248.6,488.9 249.5,488.2 250.4,487.8 251.3,487.4 252.1,487.4 253,487.4 253.9,487.4 254.8,487.4 255.6,487.5 256.5,487.6 257.4,487.4 258.2,487.2 259.1,486.7 260,486.3 260.9,485.9 261.7,485.4 262.6,485.1 263.5,484.8 264.3,484.5 265.2,484.2 266.1,484.1 267,483.9 267.8,483.9 268.7,483.9 269.6,484.1 270.4,484.3 271.3,484.6 272.2,485 273.1,484.6 273.9,484.2 274.8,483.8 275.7,483.4 276.6,483.2 277.4,483 278.3,482.6 279.2,482.1 280,482 280.9,481.8 281.8,481.6 282.7,481.4 283.5,481.5 284.4,481.5 285.3,481.7 286.1,481.8 287,482.2 287.9,482.7 288.8,482.5 289.6,482.2 290.5,482.1 291.4,482 292.2,482.2 293.1,482.4 294,482.3 294.9,482.3 295.7,481.7 296.6,481.2 297.5,481.5 298.4,481.9 299.2,482.1 300.1,482.3 301,482.3 301.8,482.3 302.7,482.5 303.6,482.7 304.5,482.8 305.3,482.9 306.2,482.2 307.1,481.6 307.9,481.2 308.8,480.8 309.7,480.5 310.6,480.2 311.4,479.6 312.3,479 313.2,478.1 314,477.3 314.9,476.7 315.8,476.2 316.7,475.7 317.5,475.3 318.4,474.5 319.3,473.6 320.2,474.1 321,474.6 321.9,475.2 322.8,475.9 323.6,475.2 324.5,474.5 325.4,473.9 326.3,473.3 327.1,472.9 328,472.5 328.9,472.7 329.7,472.8 330.6,472.4 331.5,472 332.4,471.6 333.2,471.1 334.1,470.8 335,470.5 335.8,470.9 336.7,471.3 337.6,471.3 338.5,471.3 339.3,471.3 340.2,471.3 341.1,471.8 342,472.2 342.8,472.3 343.7,472.4 344.6,472.3 345.4,472.2 346.3,472.7 347.2,473.2 348.1,473.9 348.9,474.6 349.8,474.3 350.7,474.1 351.5,473.9 352.4,473.7 353.3,473.8 354.2,473.8 355,474.2 355.9,474.7 356.8,474.8 357.6,475 358.5,474.1 359.4,473.3 360.3,473 361.1,472.7 362,472.4 362.9,472.2 363.8,471.6 364.6,471 365.5,470.3 366.4,469.7 367.2,469.9 368.1,470.1 369,470.7 369.9,471.2 370.7,471 371.6,470.8 372.5,470.4 373.3,469.9 374.2,469.9 375.1,469.8 376,469.7 376.8,469.6 377.7,469.9 378.6,470.2 379.4,470.6 380.3,471 381.2,471.1 382.1,471.1 382.9,471.4 383.8,471.7 384.7,471.6 385.6,471.4 386.4,471.3 387.3,471.1 388.2,470.4 389,469.6 389.9,469.4 390.8,469.2 391.7,469.7 392.5,470.2 393.4,470.3 394.3,470.5 395.1,470.3 396,470.2 396.9,470.3 397.8,470.4 398.6,470.5 399.5,470.7 400.4,470.7 401.2,470.8 402.1,470.6 403,470.4 403.9,470.7 404.7,471 405.6,471.5 406.5,472.1 407.4,472 408.2,471.9 409.1,471.7 410,471.4 410.8,470.9 411.7,470.4 412.6,470 413.5,469.6 414.3,469 415.2,468.5 416.1,468.4 416.9,468.3 417.8,468 418.7,467.7 419.6,467.5 420.4,467.2 421.3,467.2 422.2,467.2 423,467.5 423.9,467.9 424.8,467.9 425.7,467.9 426.5,467.2 427.4,466.5 428.3,465.5 429.2,464.6 430,464.2 430.9,463.9 431.8,463.4 432.6,462.9 433.5,462.9 434.4,462.8 435.3,462.8 436.1,462.7 437,462.6 437.9,462.4 438.7,462.3 439.6,462.2 440.5,462.3 441.4,462.4 442.2,462.9 443.1,463.3 444,463.7 444.8,464.1 445.7,464.2 446.6,464.3 447.5,463.9 448.3,463.4 449.2,463.3 450.1,463.3 451,462.9 451.8,462.6 452.7,462.6 453.6,462.6 454.4,462.9 455.3,463.2 456.2,463.4 457.1,463.5 457.9,463.8 458.8,464.1 459.7,464 460.5,463.9 461.4,463.5 462.3,463.1 463.2,463.1 464,463.1 464.9,463 465.8,462.9 466.6,462.9 467.5,462.9 468.4,461.9 469.3,460.9 470.1,460.6 471,460.3 471.9,459.7 472.8,459.1 473.6,459.2 474.5,459.4 475.4,459.8 476.2,460.2 477.1,460.3 478,460.3 478.9,460.3 479.7,460.3 480.6,460.4 481.5,460.5 482.3,460.5 483.2,460.6 484.1,461.1 485,461.6 485.8,462 486.7,462.5 487.6,462.8 488.4,463.1 489.3,463.1 490.2,463.1 491.1,463 491.9,463 492.8,463.1 493.7,463.3 494.6,463.2 495.4,463.1 496.3,462.9 497.2,462.7 498,462.7 498.9,462.6 499.8,462.5 500.7,462.4 501.5,462.6 502.4,462.8 503.3,463.1 504.1,463.4 505,463.3 505.9,463.2 506.8,463.6 507.6,464.1 508.5,464.5 509.4,464.8 510.2,464.4 511.1,464 512,464.8 512.9,465.7 513.7,465.9 514.6,466.1 515.5,465.5 516.4,464.9 517.2,465.2 518.1,465.5 519,465 519.8,464.5 520.7,465.2 521.6,465.8 522.5,465.8 523.3,465.8 524.2,465.2 525.1,464.6 525.9,464.7 526.8,464.8 527.7,464.7 528.6,464.6 529.4,464.1 530.3,463.7 531.2,464.2 532,464.7 532.9,464.8 533.8,465 534.7,465.4 535.5,465.9 536.4,466.4 537.3,466.9 538.2,466.9 539,466.9 539.9,466.1 540.8,465.3 541.6,464.4 542.5,465.3 543.4,465.9 544.3,466.5 545.1,467 546,467.4 546.9,467.3 547.7,467.2 548.6,467.2 549.5,467.2 550.4,467.5 551.2,467.8 552.1,467.5 553,467.2 553.8,466.9 554.7,466.5 555.6,466 556.5,465.5 557.3,464.7 558.2,463.9 559.1,463.4 560,462.8 560.8,462.7 561.7,462.6 562.6,462.8 563.4,463.1 564.3,463.1 565.2,463.1 566.1,463.2 566.9,463.3 567.8,463.4 568.7,463.4 569.5,463.7 570.4,464 571.3,464 572.2,464.1 573,464 573.9,464 574.8,463.5 575.6,463.1 576.5,462.8 577.4,462.6 578.3,462.4 579.1,462.2 580,462.3 580.9,462.4 581.8,462.8 582.6,463.2 583.5,463.6 584.4,463.9 585.2,463.9 586.1,463.9 587,463.4 587.9,462.9 588.7,462.2 589.6,461.4 590.5,461 591.3,460.6 592.2,460.8 593.1,461 594,461 594.8,460.9 595.7,460.1 596.6,459.3 597.4,458.8 598.3,458.4 599.2,458.3 600.1,458.2 600.9,457.9 601.8,457.6 602.7,457.6 603.6,457.6 604.4,457.8 605.3,457.9 606.2,457.8 607,457.7" stroke="#d62728" stroke-width="2.3"/>
</g>
<path d="M589.6 688V426.5" stroke="#262626" stroke-width="1.9" stroke-dasharray="6.8 3.15" fill="none"/>
<rect x="66.4" y="426.5" width="540.6" height="261.5" fill="none" stroke="#626262" stroke-width="1.1"/>
<path d="M66.4 688v5.8M153.6 688v5.8M240.8 688v5.8M328 688v5.8M415.2 688v5.8M502.4 688v5.8M589.6 688v5.8M66.4 688h-5.8M66.4 642.2h-5.8M66.4 596.4h-5.8M66.4 550.6h-5.8M66.4 504.8h-5.8M66.4 459h-5.8" stroke="#3c3c3c" stroke-width="1.15" fill="none"/>
<text x="63.1" y="704.9" font-size="10.4" fill="#333" textLength="6.5" lengthAdjust="spacingAndGlyphs">0</text>
<text x="147.1" y="704.9" font-size="10.4" fill="#333" textLength="13" lengthAdjust="spacingAndGlyphs">50</text>
<text x="231" y="704.9" font-size="10.4" fill="#333" textLength="19.6" lengthAdjust="spacingAndGlyphs">100</text>
<text x="318.2" y="704.9" font-size="10.4" fill="#333" textLength="19.6" lengthAdjust="spacingAndGlyphs">150</text>
<text x="405.4" y="704.9" font-size="10.4" fill="#333" textLength="19.6" lengthAdjust="spacingAndGlyphs">200</text>
<text x="492.6" y="704.9" font-size="10.4" fill="#333" textLength="19.6" lengthAdjust="spacingAndGlyphs">250</text>
<text x="579.8" y="704.9" font-size="10.4" fill="#333" textLength="19.6" lengthAdjust="spacingAndGlyphs">300</text>
<text x="41.2" y="691.7" font-size="10.4" fill="#333" textLength="16.3" lengthAdjust="spacingAndGlyphs">0.0</text>
<text x="41.2" y="645.9" font-size="10.4" fill="#333" textLength="16.3" lengthAdjust="spacingAndGlyphs">0.1</text>
<text x="41.2" y="600.1" font-size="10.4" fill="#333" textLength="16.3" lengthAdjust="spacingAndGlyphs">0.2</text>
<text x="41.2" y="554.3" font-size="10.4" fill="#333" textLength="16.3" lengthAdjust="spacingAndGlyphs">0.3</text>
<text x="41.2" y="508.5" font-size="10.4" fill="#333" textLength="16.3" lengthAdjust="spacingAndGlyphs">0.4</text>
<text x="41.2" y="462.7" font-size="10.4" fill="#333" textLength="16.3" lengthAdjust="spacingAndGlyphs">0.5</text>
<text x="324.3" y="719.3" font-size="11.2" fill="#333" textLength="24.8" lengthAdjust="spacingAndGlyphs">Step</text>
<g transform="translate(36.3 558) rotate(-90)"><text x="-20.3" y="0" font-size="11.2" fill="#333" textLength="40.6" lengthAdjust="spacingAndGlyphs">Reward</text></g>
<text x="268.9" y="421.1" font-size="14.0" font-weight="bold" fill="#2a2a2a" textLength="135.6" lengthAdjust="spacingAndGlyphs">Qwen-2.5-7B-Base</text>
<text x="547.2" y="663" font-size="11.9" fill="#2a2a2a" textLength="34.5" lengthAdjust="spacingAndGlyphs">Cutoff</text>
<rect x="71.6" y="649.4" width="142.7" height="33.5" rx="2.6" fill="#fff" fill-opacity=".8" stroke="#ccc" stroke-opacity=".8" stroke-width="1"/>
<path d="M74.5 658h22.6" stroke="#1f77b4" stroke-width="2.3" fill="none"/>
<path d="M74.5 673h22.6" stroke="#d62728" stroke-width="2.3" fill="none"/>
<text x="104.7" y="661.7" font-size="10.4" fill="#333" textLength="84.4" lengthAdjust="spacingAndGlyphs">GRPO (Baseline)</text>
<text x="104.7" y="677.2" font-size="10.4" fill="#333" textLength="106.1" lengthAdjust="spacingAndGlyphs">GRPO + LLDS (Ours)</text>
</g>
<g>
<path d="M837.3 687.9V426.5M924.5 687.9V426.5M1011.7 687.9V426.5M1098.9 687.9V426.5M1186.1 687.9V426.5M1273.3 687.9V426.5M750.1 640.4H1290.7M750.1 592.9H1290.7M750.1 545.3H1290.7M750.1 497.8H1290.7M750.1 450.3H1290.7" stroke="#b0b0b0" stroke-opacity=".33" stroke-width=".85" stroke-dasharray="3.2 1.8" fill="none"/>
<clipPath id="clipd"><rect x="750.1" y="426.5" width="540.6" height="262"/></clipPath>
<g clip-path="url(#clipd)" fill="none" stroke-linejoin="round" stroke-linecap="butt">
<polyline points="750.1,538.4 751.8,532.1 753.6,545.1 755.3,541.9 757.1,541.4 758.8,527.5 760.6,535.7 762.3,540.1 764.1,534.2 765.8,535.3 767.5,527.8 769.3,531.8 771,518.3 772.8,521.9 774.5,534.5 776.3,537.2 778,523.6 779.7,525.8 781.5,530.7 783.2,543.3 785,546.2 786.7,524.5 788.5,519 790.2,516.9 792,535 793.7,511.3 795.4,524.9 797.2,515.6 798.9,515.6 800.7,528.1 802.4,527.4 804.2,542.5 805.9,531.2 807.7,537.5 809.4,513.2 811.1,514.7 812.9,505.9 814.6,511.1 816.4,520.2 818.1,510.2 819.9,516.6 821.6,507.4 823.3,511.4 825.1,524.8 826.8,514.8 828.6,511.9 830.3,512.7 832.1,500.1 833.8,492.9 835.6,513.6 837.3,513.1 839,529.2 840.8,506.5 842.5,507.5 844.3,522.5 846,498.2 847.8,494.3 849.5,505.8 851.3,501.3 853,505.7 854.7,487.8 856.5,508.6 858.2,497.7 860,478.4 861.7,499.1 863.5,496.7 865.2,502.5 866.9,510.7 868.7,497.4 870.4,490.8 872.2,503.1 873.9,489.6 875.7,480.3 877.4,480.4 879.2,503.8 880.9,497.2 882.6,503.7 884.4,479.2 886.1,484 887.9,483 889.6,497.3 891.4,498.7 893.1,484.9 894.9,482.4 896.6,489.5 898.3,478.7 900.1,473.4 901.8,477.7 903.6,491 905.3,503.3 907.1,488.2 908.8,485.7 910.5,489.1 912.3,488.7 914,489.3 915.8,474.7 917.5,481.4 919.3,479.4 921,489.9 922.8,487.2 924.5,481 926.2,494 928,498 929.7,489.1 931.5,472.6 933.2,479.6 935,465.9 936.7,480.4 938.5,481.9 940.2,491.6 941.9,482.9 943.7,462.9 945.4,473 947.2,469.4 948.9,470.3 950.7,477.6 952.4,480 954.1,477.1 955.9,471 957.6,471.2 959.4,468.6 961.1,469.9 962.9,477.4 964.6,471.2 966.4,475.7 968.1,455.6 969.8,485.7 971.6,470.6 973.3,448.5 975.1,474.8 976.8,481.8 978.6,472.4 980.3,462.6 982.1,478.4 983.8,471.4 985.5,475.2 987.3,478 989,442.8 990.8,471.2 992.5,477.3 994.3,478.2 996,471.7 997.7,472.9 999.5,470.1 1001.2,475.9 1003,490.2 1004.7,471.1 1006.5,478.1 1008.2,475.7 1010,484 1011.7,473 1013.4,473.7 1015.2,466.5 1016.9,478.3 1018.7,462.3 1020.4,461.7 1022.2,474.8 1023.9,470.7 1025.7,472.5 1027.4,455.1 1029.1,487.6 1030.9,466.9 1032.6,479.6 1034.4,468.2 1036.1,456.4 1037.9,471 1039.6,464.3 1041.3,474 1043.1,447.3 1044.8,456.5 1046.6,455 1048.3,480.5 1050.1,481.2 1051.8,462.3 1053.6,475.1 1055.3,475.7 1057,469.8 1058.8,484.7 1060.5,465.3 1062.3,472.5 1064,468.1 1065.8,478.6 1067.5,466.5 1069.3,477.2 1071,461.5 1072.7,462.2 1074.5,469.3 1076.2,474.1 1078,472.6 1079.7,516.7 1080.2,533.5 1081.5,589.5 1082,611.9 1083.2,632.1 1083.6,635.6 1084.9,642.4 1085.3,647.5 1086.7,687.9" stroke="#1f77b4" stroke-opacity=".2" stroke-width="1.1"/>
<polyline points="750.1,530.7 751,531.2 751.8,531.8 752.7,531.9 753.6,531.9 754.5,532 755.3,532.2 756.2,532.8 757.1,533.4 757.9,534 758.8,534.6 759.7,534.4 760.6,534.3 761.4,534.6 762.3,535 763.2,535.5 764.1,536.1 764.9,536 765.8,535.8 766.7,535.8 767.5,535.8 768.4,535.9 769.3,536 770.2,536.6 771,537.2 771.9,537.1 772.8,537.1 773.6,536.5 774.5,536 775.4,535.8 776.3,535.6 777.1,535.3 778,534.9 778.9,535 779.7,535.1 780.6,534.8 781.5,534.5 782.4,534.1 783.2,533.8 784.1,533.3 785,532.8 785.9,532.6 786.7,532.4 787.6,532.1 788.5,531.8 789.3,531.5 790.2,531.3 791.1,531.3 792,531.2 792.8,530.8 793.7,530.4 794.6,529.7 795.4,528.9 796.3,528.4 797.2,527.8 798.1,526.8 798.9,525.8 799.8,525.2 800.7,524.5 801.5,524.5 802.4,524.4 803.3,524.6 804.2,524.8 805,524.9 805.9,525 806.8,525.1 807.7,525.2 808.5,524.2 809.4,523.3 810.3,522.7 811.1,522.1 812,521.7 812.9,521.3 813.8,521.1 814.6,520.9 815.5,521 816.4,521.2 817.2,520.8 818.1,520.4 819,519.9 819.9,519.4 820.7,518.7 821.6,518.1 822.5,517.5 823.3,517 824.2,517.2 825.1,517.4 826,517.5 826.8,517.5 827.7,517 828.6,516.5 829.5,516.3 830.3,516 831.2,515.9 832.1,515.7 832.9,515 833.8,514.4 834.7,514.2 835.6,514.1 836.4,514 837.3,513.9 838.2,513.5 839,513.2 839.9,512.2 840.8,511.3 841.7,511.4 842.5,511.5 843.4,511.1 844.3,510.7 845.1,509.9 846,509.1 846.9,508.6 847.8,508.1 848.6,507.7 849.5,507.2 850.4,506.7 851.3,506.3 852.1,505.5 853,504.7 853.9,504.3 854.7,503.9 855.6,503.5 856.5,503 857.4,502.3 858.2,501.7 859.1,501 860,500.4 860.8,500.5 861.7,500.6 862.6,500.5 863.5,500.3 864.3,500.5 865.2,500.6 866.1,500.7 866.9,500.8 867.8,500.9 868.7,500.9 869.6,500.7 870.4,500.5 871.3,500.2 872.2,499.9 873.1,499.4 873.9,499 874.8,498.5 875.7,498.1 876.5,497.8 877.4,497.6 878.3,497.3 879.2,496.9 880,496.1 880.9,495.3 881.8,494.5 882.6,493.7 883.5,494 884.4,494.3 885.3,493.7 886.1,493 887,492.7 887.9,492.3 888.7,492.4 889.6,492.5 890.5,492.1 891.4,491.6 892.2,491.4 893.1,491.3 894,491.1 894.9,490.9 895.7,489.8 896.6,488.8 897.5,488.6 898.3,488.4 899.2,488.1 900.1,487.8 901,486.8 901.8,485.9 902.7,485.9 903.6,485.9 904.4,485.8 905.3,485.6 906.2,485.1 907.1,484.6 907.9,484.4 908.8,484.3 909.7,485.1 910.5,485.9 911.4,486 912.3,486.1 913.2,485.7 914,485.2 914.9,485 915.8,484.8 916.7,485 917.5,485.1 918.4,484.7 919.3,484.3 920.1,483.8 921,483.4 921.9,483.2 922.8,483.1 923.6,482.8 924.5,482.4 925.4,482.2 926.2,482 927.1,482.5 928,482.9 928.9,483.3 929.7,483.7 930.6,484.3 931.5,484.9 932.3,484.6 933.2,484.4 934.1,483.9 935,483.3 935.8,483.2 936.7,483 937.6,482.7 938.5,482.5 939.3,482.5 940.2,482.4 941.1,481.8 941.9,481.2 942.8,480.4 943.7,479.6 944.6,479.8 945.4,479.9 946.3,479.8 947.2,479.7 948,479.6 948.9,479.5 949.8,479.1 950.7,478.8 951.5,478.6 952.4,478.4 953.3,478.6 954.1,478.8 955,479 955.9,479.1 956.8,479 957.6,479 958.5,478.8 959.4,478.6 960.3,478 961.1,477.4 962,477.1 962.9,476.8 963.7,476.3 964.6,475.8 965.5,475.2 966.4,474.7 967.2,474.1 968.1,473.5 969,472.9 969.8,472.2 970.7,471.4 971.6,470.5 972.5,471.2 973.3,471.9 974.2,472.2 975.1,472.5 975.9,472.1 976.8,471.7 977.7,471.3 978.6,471 979.4,471.3 980.3,471.7 981.2,471.9 982.1,472.1 982.9,472.9 983.8,473.7 984.7,473.9 985.5,474 986.4,474.3 987.3,474.6 988.2,474.1 989,473.6 989.9,473.8 990.8,474 991.6,474.1 992.5,474.2 993.4,474.2 994.3,474.2 995.1,473.5 996,472.9 996.9,473.3 997.7,473.7 998.6,474.1 999.5,474.5 1000.4,474.7 1001.2,474.9 1002.1,475.4 1003,475.8 1003.9,475.8 1004.7,475.7 1005.6,475.3 1006.5,475 1007.3,475 1008.2,475 1009.1,474.9 1010,474.8 1010.8,474.3 1011.7,473.7 1012.6,473.2 1013.4,472.6 1014.3,472.6 1015.2,472.5 1016.1,472.2 1016.9,472 1017.8,470.8 1018.7,469.5 1019.5,468.9 1020.4,468.2 1021.3,468.4 1022.2,468.5 1023,468.6 1023.9,468.7 1024.8,468.6 1025.7,468.5 1026.5,467.8 1027.4,467 1028.3,467 1029.1,467 1030,467.2 1030.9,467.3 1031.8,466.9 1032.6,466.6 1033.5,466.3 1034.4,466.1 1035.2,465.6 1036.1,465 1037,465.6 1037.9,466.1 1038.7,466.1 1039.6,466.1 1040.5,465.6 1041.3,465.2 1042.2,465.6 1043.1,466.1 1044,466.3 1044.8,466.5 1045.7,466 1046.6,465.5 1047.5,464.9 1048.3,464.3 1049.2,465.1 1050.1,466 1050.9,466.9 1051.8,467.9 1052.7,467.8 1053.6,467.6 1054.4,467.5 1055.3,467.3 1056.2,468 1057,468.7 1057.9,469.6 1058.8,470.5 1059.7,470.1 1060.5,469.7 1061.4,469.7 1062.3,469.7 1063.1,469.8 1064,469.9 1064.9,470.1 1065.8,470.3 1066.6,470.8 1067.5,471.2 1068.4,471.1 1069.3,471.1 1070.1,470.6 1071,470.1 1071.9,469.8 1072.7,469.4 1073.6,470.4 1074.5,471.4 1075.4,471.8 1076.2,472.3 1077.1,473.3 1078,474.3 1078.8,476.2 1079.7,480.7 1080.6,485.6 1081.5,490.5 1082.3,496 1083.2,501.6 1084.1,507.1 1084.9,516.5 1085.5,522.3 1086.7,687.9" stroke="#1f77b4" stroke-width="2.3"/>
<polyline points="750.1,530.6 751.8,543 753.6,557 755.3,551.2 757.1,536.8 758.8,547.7 760.6,532 762.3,538.5 764.1,540.3 765.8,535.1 767.5,531.9 769.3,540.5 771,534.9 772.8,511.4 774.5,546.6 776.3,539.4 778,523.6 779.7,534.3 781.5,539.9 783.2,544.6 785,527.8 786.7,525.1 788.5,523.5 790.2,537.1 792,526.8 793.7,544.6 795.4,531.1 797.2,537.3 798.9,527.9 800.7,521.5 802.4,517.9 804.2,537.4 805.9,516.4 807.7,533.3 809.4,538.3 811.1,529.1 812.9,540.1 814.6,525.5 816.4,522.8 818.1,527.9 819.9,521.7 821.6,530.8 823.3,528.4 825.1,541.5 826.8,525.3 828.6,531.4 830.3,526 832.1,522.2 833.8,519.6 835.6,537.2 837.3,536.6 839,524.3 840.8,515.5 842.5,513.9 844.3,505.9 846,500.3 847.8,507.4 849.5,512.3 851.3,521.4 853,519.5 854.7,513.6 856.5,505.2 858.2,504.4 860,505.7 861.7,507.2 863.5,500.8 865.2,506.2 866.9,506.1 868.7,506.1 870.4,513.7 872.2,517.2 873.9,501.1 875.7,500.1 877.4,504.9 879.2,506.1 880.9,480.2 882.6,508.9 884.4,503.6 886.1,499.3 887.9,513.8 889.6,504.1 891.4,491.4 893.1,502.2 894.9,505.2 896.6,502.6 898.3,502.8 900.1,491.3 901.8,499.7 903.6,501.1 905.3,495.8 907.1,488.7 908.8,495.1 910.5,492.4 912.3,517.9 914,486.6 915.8,474.5 917.5,482.7 919.3,497.5 921,502.1 922.8,491 924.5,502.1 926.2,484.4 928,494.8 929.7,479.4 931.5,474.8 933.2,506.6 935,484.3 936.7,493.8 938.5,500.7 940.2,492.9 941.9,488.6 943.7,476 945.4,499.7 947.2,474.7 948.9,464.9 950.7,477.5 952.4,476.5 954.1,480.4 955.9,490.3 957.6,473.1 959.4,473.3 961.1,469.3 962.9,453.5 964.6,475 966.4,481.2 968.1,470.3 969.8,495.1 971.6,490.2 973.3,481.2 975.1,482.9 976.8,469.2 978.6,478 980.3,457.7 982.1,458.7 983.8,464.6 985.5,474.5 987.3,464.3 989,462.5 990.8,480.8 992.5,468.3 994.3,466.2 996,472.4 997.7,460.8 999.5,465.1 1001.2,485.3 1003,477.2 1004.7,486.7 1006.5,472.2 1008.2,483.6 1010,464.3 1011.7,468.6 1013.4,463.4 1015.2,474.3 1016.9,486.3 1018.7,455 1020.4,472.8 1022.2,457.7 1023.9,466.3 1025.7,463.5 1027.4,451.9 1029.1,465.5 1030.9,454.8 1032.6,481.6 1034.4,458.7 1036.1,468.7 1037.9,467 1039.6,465 1041.3,461.1 1043.1,447.9 1044.8,481.1 1046.6,464.6 1048.3,475 1050.1,460.7 1051.8,478.2 1053.6,471.1 1055.3,480.2 1057,470.5 1058.8,465.8 1060.5,475.7 1062.3,468.2 1064,481.3 1065.8,465.8 1067.5,461.6 1069.3,475.1 1071,458.6 1072.7,487.9 1074.5,484.4 1076.2,478.3 1078,467.7 1079.7,460.8 1081.5,459.8 1083.2,458.5 1084.9,450.7 1086.7,462.9 1088.4,472.9 1090.2,476.6 1091.9,448.8 1093.7,493.4 1095.4,472.2 1097.2,454.4 1098.9,461.8 1100.6,474.6 1102.4,469.4 1104.1,464.1 1105.9,461.2 1107.6,478.8 1109.4,459.6 1111.1,462.5 1112.9,454.1 1114.6,451.5 1116.3,467.1 1118.1,475.3 1119.8,455.9 1121.6,443.2 1123.3,456.4 1125.1,463.6 1126.8,443.7 1128.5,475.5 1130.3,455.9 1132,469.5 1133.8,463.8 1135.5,464.3 1137.3,452.6 1139,478.7 1140.8,478.2 1142.5,491.1 1144.2,472.9 1146,481.4 1147.7,470 1149.5,479.4 1151.2,468 1153,452.1 1154.7,462.8 1156.5,455.1 1158.2,455.8 1159.9,463.9 1161.7,475 1163.4,450.5 1165.2,457.9 1166.9,450.1 1168.7,478.6 1170.4,475.7 1172.1,481.3 1173.9,470.9 1175.6,454.2 1177.4,459.5 1179.1,464.9 1180.9,462.4 1182.6,455.6 1184.4,464.9 1186.1,457.6 1187.8,459.5 1189.6,481.3 1191.3,463.8 1193.1,446.7 1194.8,463.2 1196.6,462.3 1198.3,469.4 1200.1,469.8 1201.8,453.1 1203.5,463.1 1205.3,467.6 1207,487 1208.8,464.7 1210.5,481.1 1212.3,482.1 1214,456.3 1215.7,453.1 1217.5,474.5 1219.2,448 1221,454.2 1222.7,468.7 1224.5,456.4 1226.2,481.3 1228,479.9 1229.7,483.5 1231.4,479.7 1233.2,460 1234.9,481.5 1236.7,481.2 1238.4,479.9 1240.2,467.8 1241.9,469.7 1243.7,453.9 1245.4,465.3 1247.1,469.9 1248.9,463.5 1250.6,460 1252.4,470.4 1254.1,459.9 1255.9,446.7 1257.6,471.3 1259.3,466.3 1261.1,452.3 1262.8,467.4 1264.6,465.6 1266.3,466.7 1268.1,453.1 1269.8,452.4 1271.6,457.9 1273.3,454.4 1275,441.1 1276.8,443.9 1278.5,464.9 1280.3,451.7 1282,451.5 1283.8,447 1285.5,456.5 1287.3,459.7 1289,456.7 1290.7,468.7" stroke="#d62728" stroke-opacity=".2" stroke-width="1.1"/>
<polyline points="750.1,533.9 751,534.6 751.8,535.2 752.7,536.3 753.6,537.3 754.5,537.5 755.3,537.7 756.2,537.6 757.1,537.4 757.9,538.3 758.8,539.2 759.7,538.9 760.6,538.6 761.4,538.5 762.3,538.3 763.2,538.6 764.1,538.9 764.9,539.4 765.8,540 766.7,540.9 767.5,541.9 768.4,540.7 769.3,539.5 770.2,538.2 771,536.9 771.9,536.5 772.8,536.1 773.6,536 774.5,535.8 775.4,536.1 776.3,536.3 777.1,536.5 778,536.6 778.9,536.6 779.7,536.6 780.6,536.4 781.5,536.1 782.4,536 783.2,535.8 784.1,535.5 785,535.3 785.9,535.5 786.7,535.7 787.6,535.6 788.5,535.6 789.3,535.4 790.2,535.3 791.1,535 792,534.7 792.8,534.6 793.7,534.6 794.6,535.1 795.4,535.6 796.3,535.2 797.2,534.9 798.1,534.8 798.9,534.8 799.8,534.6 800.7,534.4 801.5,534.3 802.4,534.1 803.3,533.2 804.2,532.3 805,531.7 805.9,531 806.8,531.5 807.7,531.9 808.5,531.8 809.4,531.7 810.3,531.2 811.1,530.7 812,530.3 812.9,529.9 813.8,529.7 814.6,529.5 815.5,529.5 816.4,529.5 817.2,529.4 818.1,529.4 819,529.1 819.9,528.7 820.7,528.2 821.6,527.8 822.5,528.1 823.3,528.5 824.2,528.9 825.1,529.3 826,528.9 826.8,528.5 827.7,528.3 828.6,528 829.5,527.5 830.3,526.9 831.2,526.4 832.1,525.9 832.9,525.6 833.8,525.3 834.7,524.8 835.6,524.3 836.4,524.1 837.3,524 838.2,524 839,524 839.9,524.2 840.8,524.4 841.7,524.5 842.5,524.6 843.4,523.6 844.3,522.6 845.1,521.6 846,520.5 846.9,519.8 847.8,519.1 848.6,518.5 849.5,517.9 850.4,517.8 851.3,517.7 852.1,517.7 853,517.6 853.9,516.9 854.7,516.3 855.6,515.9 856.5,515.5 857.4,515.1 858.2,514.8 859.1,514.5 860,514.2 860.8,513.4 861.7,512.5 862.6,512.2 863.5,511.8 864.3,511.6 865.2,511.5 866.1,511.6 866.9,511.6 867.8,511.3 868.7,510.9 869.6,510.8 870.4,510.8 871.3,510.6 872.2,510.4 873.1,510.5 873.9,510.6 874.8,510.4 875.7,510.1 876.5,509.1 877.4,508.2 878.3,508 879.2,507.8 880,507.6 880.9,507.4 881.8,507.1 882.6,506.7 883.5,506.9 884.4,507.1 885.3,506.5 886.1,506 887,505.3 887.9,504.7 888.7,504.8 889.6,504.8 890.5,504.9 891.4,505 892.2,505.3 893.1,505.6 894,506.5 894.9,507.3 895.7,507.7 896.6,508.1 897.5,507.7 898.3,507.3 899.2,506.3 900.1,505.4 901,505.4 901.8,505.4 902.7,505 903.6,504.6 904.4,503.7 905.3,502.8 906.2,502.9 907.1,503 907.9,503.3 908.8,503.5 909.7,502.7 910.5,502 911.4,501.7 912.3,501.4 913.2,501.3 914,501.1 914.9,500.6 915.8,500.2 916.7,500.1 917.5,500 918.4,500 919.3,500.1 920.1,500.2 921,500.3 921.9,499.7 922.8,499 923.6,498.5 924.5,498.1 925.4,497.7 926.2,497.3 927.1,496.7 928,496.1 928.9,496 929.7,496 930.6,495 931.5,494.1 932.3,493.4 933.2,492.7 934.1,492.4 935,492.2 935.8,492.3 936.7,492.4 937.6,492.3 938.5,492.2 939.3,491.9 940.2,491.5 941.1,491.3 941.9,491 942.8,490.9 943.7,490.8 944.6,490.3 945.4,489.7 946.3,489.3 947.2,488.8 948,488.5 948.9,488.3 949.8,488.2 950.7,488.1 951.5,487.6 952.4,487 953.3,486.6 954.1,486.1 955,486.5 955.9,486.9 956.8,486.4 957.6,486 958.5,485.1 959.4,484.3 960.3,483.6 961.1,482.9 962,482.4 962.9,481.9 963.7,481.5 964.6,481.1 965.5,481.8 966.4,482.6 967.2,483 968.1,483.5 969,483.3 969.8,483.1 970.7,483.1 971.6,483 972.5,482.8 973.3,482.7 974.2,482.1 975.1,481.5 975.9,481.2 976.8,480.9 977.7,481.1 978.6,481.2 979.4,480.5 980.3,479.8 981.2,479.4 982.1,479 982.9,478.7 983.8,478.3 984.7,477.7 985.5,477.1 986.4,476.4 987.3,475.8 988.2,475.3 989,474.7 989.9,474.9 990.8,475 991.6,474.9 992.5,474.8 993.4,474.8 994.3,474.7 995.1,474.3 996,473.8 996.9,473.7 997.7,473.6 998.6,473.7 999.5,473.8 1000.4,474.2 1001.2,474.6 1002.1,475.4 1003,476.2 1003.9,475.9 1004.7,475.6 1005.6,475.6 1006.5,475.7 1007.3,476.1 1008.2,476.6 1009.1,476.2 1010,475.8 1010.8,475.3 1011.7,474.8 1012.6,474.7 1013.4,474.6 1014.3,475 1015.2,475.4 1016.1,475 1016.9,474.7 1017.8,474.4 1018.7,474.2 1019.5,474.3 1020.4,474.3 1021.3,473.6 1022.2,472.9 1023,472.6 1023.9,472.3 1024.8,472.5 1025.7,472.8 1026.5,473.1 1027.4,473.5 1028.3,473 1029.1,472.6 1030,472 1030.9,471.4 1031.8,471.2 1032.6,471.1 1033.5,471.2 1034.4,471.3 1035.2,471.2 1036.1,471 1037,470.8 1037.9,470.6 1038.7,470.1 1039.6,469.5 1040.5,468.9 1041.3,468.3 1042.2,467.9 1043.1,467.5 1044,467.6 1044.8,467.6 1045.7,467.4 1046.6,467.1 1047.5,466.6 1048.3,466 1049.2,466.7 1050.1,467.4 1050.9,467.9 1051.8,468.4 1052.7,468.2 1053.6,468.1 1054.4,468.5 1055.3,469 1056.2,469.5 1057,470 1057.9,470.7 1058.8,471.4 1059.7,472.1 1060.5,472.7 1061.4,472.5 1062.3,472.3 1063.1,471.7 1064,471 1064.9,470.5 1065.8,470 1066.6,469.6 1067.5,469.2 1068.4,469.2 1069.3,469.3 1070.1,469.5 1071,469.7 1071.9,469.8 1072.7,470 1073.6,470.2 1074.5,470.3 1075.4,470 1076.2,469.7 1077.1,469.2 1078,468.6 1078.8,468.5 1079.7,468.4 1080.6,467.6 1081.5,466.9 1082.3,466.5 1083.2,466.1 1084.1,466 1084.9,465.9 1085.8,465.5 1086.7,465.1 1087.6,464.8 1088.4,464.4 1089.3,464.1 1090.2,463.8 1091.1,463.7 1091.9,463.6 1092.8,464.1 1093.7,464.5 1094.5,465.1 1095.4,465.6 1096.3,465.7 1097.2,465.9 1098,465.6 1098.9,465.2 1099.8,465.5 1100.6,465.7 1101.5,465.4 1102.4,465.1 1103.3,465.6 1104.1,466.1 1105,466.9 1105.9,467.6 1106.7,468.1 1107.6,468.6 1108.5,468.7 1109.4,468.8 1110.2,468.7 1111.1,468.5 1112,468 1112.9,467.5 1113.7,467.2 1114.6,466.8 1115.5,466.8 1116.3,466.9 1117.2,466.9 1118.1,466.9 1119,466.1 1119.8,465.3 1120.7,464.5 1121.6,463.7 1122.4,463.3 1123.3,462.8 1124.2,463.2 1125.1,463.6 1125.9,464.2 1126.8,464.9 1127.7,465.1 1128.5,465.3 1129.4,465.1 1130.3,464.9 1131.2,464.8 1132,464.8 1132.9,464.9 1133.8,465 1134.7,464.5 1135.5,464 1136.4,464.1 1137.3,464.1 1138.1,464.9 1139,465.6 1139.9,465.6 1140.8,465.7 1141.6,465.8 1142.5,465.9 1143.4,466.8 1144.2,467.7 1145.1,468.3 1146,469 1146.9,469.6 1147.7,470.2 1148.6,470.9 1149.5,471.6 1150.3,471 1151.2,470.5 1152.1,469.8 1153,469.1 1153.8,468.2 1154.7,467.2 1155.6,467.2 1156.5,467.2 1157.3,466.6 1158.2,466.1 1159.1,465.9 1159.9,465.8 1160.8,465.7 1161.7,465.6 1162.6,464.9 1163.4,464.2 1164.3,463.9 1165.2,463.5 1166,463.3 1166.9,463.1 1167.8,463.3 1168.7,463.6 1169.5,463.2 1170.4,462.9 1171.3,462.8 1172.1,462.6 1173,461.8 1173.9,461.1 1174.8,461.4 1175.6,461.7 1176.5,462.2 1177.4,462.7 1178.3,463.2 1179.1,463.6 1180,463.6 1180.9,463.7 1181.7,463.8 1182.6,463.9 1183.5,463.5 1184.4,463.1 1185.2,462.9 1186.1,462.7 1187,462.6 1187.8,462.5 1188.7,462.5 1189.6,462.6 1190.5,462.6 1191.3,462.6 1192.2,462.1 1193.1,461.5 1193.9,461.6 1194.8,461.8 1195.7,462.1 1196.6,462.3 1197.4,461.7 1198.3,461.1 1199.2,461.7 1200.1,462.3 1200.9,463 1201.8,463.7 1202.7,462.9 1203.5,462.2 1204.4,462.1 1205.3,462 1206.2,461.5 1207,461.1 1207.9,460.9 1208.8,460.8 1209.6,460.3 1210.5,459.8 1211.4,459.9 1212.3,460.1 1213.1,461 1214,461.8 1214.9,462.5 1215.7,463.1 1216.6,462.5 1217.5,461.8 1218.4,460.9 1219.2,460 1220.1,459.7 1221,459.4 1221.9,459.9 1222.7,460.4 1223.6,460.4 1224.5,460.3 1225.3,460.7 1226.2,461.1 1227.1,461.6 1228,462 1228.8,462.9 1229.7,463.7 1230.6,463.7 1231.4,463.7 1232.3,463.5 1233.2,463.4 1234.1,463.7 1234.9,464 1235.8,464.6 1236.7,465.3 1237.5,465.6 1238.4,465.8 1239.3,466.4 1240.2,467.1 1241,467.3 1241.9,467.5 1242.8,466.8 1243.7,466.2 1244.5,465.7 1245.4,465.2 1246.3,464.7 1247.1,464.2 1248,463.8 1248.9,463.4 1249.8,463.4 1250.6,463.5 1251.5,463.3 1252.4,463.1 1253.2,462.8 1254.1,462.4 1255,462.5 1255.9,462.5 1256.7,462.6 1257.6,462.7 1258.5,463.1 1259.3,463.6 1260.2,463.8 1261.1,464.1 1262,464.4 1262.8,464.7 1263.7,463.7 1264.6,462.7 1265.5,461.9 1266.3,461.2 1267.2,461.3 1268.1,461.5 1268.9,461.9 1269.8,462.4 1270.7,461.8 1271.6,461.2 1272.4,460.4 1273.3,459.7 1274.2,459.6 1275,459.6 1275.9,459.6 1276.8,459.7 1277.7,459.2 1278.5,458.7 1279.4,457.8 1280.3,456.8 1281.1,456.6 1282,456.4 1282.9,456.2 1283.8,456.1 1284.6,455.9 1285.5,455.8 1286.4,455.6 1287.3,455.4 1288.1,455.1 1289,454.9 1289.9,454.7 1290.7,454.5" stroke="#d62728" stroke-width="2.3"/>
</g>
<path d="M1273.3 687.9V426.5" stroke="#262626" stroke-width="1.9" stroke-dasharray="6.8 3.15" fill="none"/>
<rect x="750.1" y="426.5" width="540.6" height="261.4" fill="none" stroke="#626262" stroke-width="1.1"/>
<path d="M750.1 687.9v5.8M837.3 687.9v5.8M924.5 687.9v5.8M1011.7 687.9v5.8M1098.9 687.9v5.8M1186.1 687.9v5.8M1273.3 687.9v5.8M750.1 687.9h-5.8M750.1 640.4h-5.8M750.1 592.9h-5.8M750.1 545.3h-5.8M750.1 497.8h-5.8M750.1 450.3h-5.8" stroke="#3c3c3c" stroke-width="1.15" fill="none"/>
<text x="746.8" y="704.8" font-size="10.4" fill="#333" textLength="6.5" lengthAdjust="spacingAndGlyphs">0</text>
<text x="830.8" y="704.8" font-size="10.4" fill="#333" textLength="13" lengthAdjust="spacingAndGlyphs">50</text>
<text x="914.7" y="704.8" font-size="10.4" fill="#333" textLength="19.6" lengthAdjust="spacingAndGlyphs">100</text>
<text x="1001.9" y="704.8" font-size="10.4" fill="#333" textLength="19.6" lengthAdjust="spacingAndGlyphs">150</text>
<text x="1089.1" y="704.8" font-size="10.4" fill="#333" textLength="19.6" lengthAdjust="spacingAndGlyphs">200</text>
<text x="1176.3" y="704.8" font-size="10.4" fill="#333" textLength="19.6" lengthAdjust="spacingAndGlyphs">250</text>
<text x="1263.5" y="704.8" font-size="10.4" fill="#333" textLength="19.6" lengthAdjust="spacingAndGlyphs">300</text>
<text x="724.9" y="691.6" font-size="10.4" fill="#333" textLength="16.3" lengthAdjust="spacingAndGlyphs">0.0</text>
<text x="724.9" y="644.1" font-size="10.4" fill="#333" textLength="16.3" lengthAdjust="spacingAndGlyphs">0.1</text>
<text x="724.9" y="596.6" font-size="10.4" fill="#333" textLength="16.3" lengthAdjust="spacingAndGlyphs">0.2</text>
<text x="724.9" y="549" font-size="10.4" fill="#333" textLength="16.3" lengthAdjust="spacingAndGlyphs">0.3</text>
<text x="724.9" y="501.5" font-size="10.4" fill="#333" textLength="16.3" lengthAdjust="spacingAndGlyphs">0.4</text>
<text x="724.9" y="454" font-size="10.4" fill="#333" textLength="16.3" lengthAdjust="spacingAndGlyphs">0.5</text>
<text x="1008" y="719.2" font-size="11.2" fill="#333" textLength="24.8" lengthAdjust="spacingAndGlyphs">Step</text>
<g transform="translate(720 558) rotate(-90)"><text x="-20.3" y="0" font-size="11.2" fill="#333" textLength="40.6" lengthAdjust="spacingAndGlyphs">Reward</text></g>
<text x="941.3" y="421.1" font-size="14.0" font-weight="bold" fill="#2a2a2a" textLength="158.1" lengthAdjust="spacingAndGlyphs">Qwen-2.5-7B-Instruct</text>
<text x="1230.9" y="662" font-size="11.9" fill="#2a2a2a" textLength="34.5" lengthAdjust="spacingAndGlyphs">Cutoff</text>
<rect x="755.3" y="649.3" width="142.7" height="33.5" rx="2.6" fill="#fff" fill-opacity=".8" stroke="#ccc" stroke-opacity=".8" stroke-width="1"/>
<path d="M758.2 657.9h22.6" stroke="#1f77b4" stroke-width="2.3" fill="none"/>
<path d="M758.2 672.9h22.6" stroke="#d62728" stroke-width="2.3" fill="none"/>
<text x="788.4" y="661.6" font-size="10.4" fill="#333" textLength="84.4" lengthAdjust="spacingAndGlyphs">GRPO (Baseline)</text>
<text x="788.4" y="677.1" font-size="10.4" fill="#333" textLength="106.1" lengthAdjust="spacingAndGlyphs">GRPO + LLDS (Ours)</text>
</g>
</svg>
<div class="cap">
<span class="t l" style="left:185.7px;top:365px;font-size:27.6px;line-height:36px;letter-spacing:0.13px">(a)</span>
<span class="t l" style="left:229.5px;top:365px;font-size:27.6px;line-height:36px;letter-spacing:0.37px">Qwen-2.5-3B-Base</span>
<span class="t l" style="left:848.5px;top:365px;font-size:27.6px;line-height:36px;letter-spacing:-0.34px">(b)</span>
<span class="t l" style="left:893.9px;top:365px;font-size:27.6px;line-height:36px;letter-spacing:0.69px">Qwen-2.5-3B-Instruct</span>
<span class="t l" style="left:185.9px;top:752.3px;font-size:27.6px;line-height:36px;letter-spacing:-0.52px">(c)</span>
<span class="t l" style="left:229.2px;top:752.3px;font-size:27.6px;line-height:36px;letter-spacing:0.39px">Qwen-2.5-7B-Base</span>
<span class="t l" style="left:855.8px;top:752.3px;font-size:27.6px;line-height:36px;letter-spacing:0.31px">(d)</span>
<span class="t l" style="left:901.2px;top:752.3px;font-size:27.6px;line-height:36px;letter-spacing:0.36px">Qwen-2.5-7B-</span>
<span class="t c" style="left:1066.3px;top:753.5px;font-size:26.3px;line-height:36px"><i style="width:26.30px">指</i><i style="width:26.30px">令</i><i style="width:26.30px">版</i></span>
<span class="t c" style="left:14.3px;top:808.4px;font-size:29.4px;line-height:40px"><i style="width:29.40px">图</i></span>
<span class="t l" style="left:53.6px;top:806.8px;font-size:30.3px;line-height:40px;letter-spacing:-1.17px">6:</span>
<span class="t c" style="left:88px;top:808.4px;font-size:29.4px;line-height:40px"><i style="width:29.40px">基</i><i style="width:29.40px">准</i></span>
<span class="t l" style="left:158.7px;top:806.8px;font-size:30.3px;line-height:40px;letter-spacing:1.45px">GRPO</span>
<span class="t c" style="left:242.1px;top:808.4px;font-size:29.4px;line-height:40px"><i style="width:29.40px">（</i></span>
<span class="t c" style="left:271.5px;top:808.4px;font-size:29.4px;line-height:40px;color:#0000ff"><i style="width:29.60px">蓝</i><i style="width:29.60px">色</i></span>
<span class="t c" style="left:330.4px;top:808.4px;font-size:29.4px;line-height:40px"><i style="width:28.00px">）</i><i style="width:28.00px">与</i></span>
<span class="t l" style="left:398px;top:806.8px;font-size:30.3px;line-height:40px;letter-spacing:1.45px">GRPO</span>
<span class="t" style="left:495.4px;top:807.2px;font-size:36.0px;line-height:40px">+</span>
<span class="t l" style="left:528.3px;top:806.8px;font-size:30.3px;line-height:40px;letter-spacing:-1.05px">LLDS</span>
<span class="t c" style="left:599.3px;top:808.4px;font-size:29.4px;line-height:40px"><i style="width:29.40px">（</i></span>
<span class="t c" style="left:628.7px;top:808.4px;font-size:29.4px;line-height:40px;color:#ff0000"><i style="width:29.40px">红</i><i style="width:29.40px">色</i></span>
<span class="t c" style="left:687.5px;top:808.4px;font-size:29.4px;line-height:40px"><i style="width:29.40px">）</i></span>
<span class="t c" style="left:714.6px;top:808.4px;font-size:29.4px;line-height:40px"><i style="width:29.43px">的</i><i style="width:29.43px">训</i><i style="width:29.43px">练</i><i style="width:29.43px">奖</i><i style="width:29.43px">励</i><i style="width:29.43px">曲</i><i style="width:29.43px">线</i><i style="width:29.43px">对</i><i style="width:29.43px">比</i><i style="width:29.43px">。</i></span>
<span class="t c" style="left:1007.5px;top:808.4px;font-size:29.4px;line-height:40px"><i style="width:29.40px">在</i><i style="width:29.40px">所</i><i style="width:29.40px">有</i><i style="width:29.40px">模</i><i style="width:29.40px">型</i><i style="width:29.40px">大</i><i style="width:29.40px">小</i><i style="width:29.40px">下</i><i style="width:29.40px">，</i></span>
<span class="t c" style="left:1271px;top:808.4px;font-size:29.4px;line-height:40px"><i style="width:29.40px">基</i></span>
<span class="t c" style="left:15px;top:852.4px;font-size:29.4px;line-height:40px"><i style="width:29.40px">准</i><i style="width:29.40px">方</i><i style="width:29.40px">法</i><i style="width:29.40px">均</i><i style="width:29.40px">出</i><i style="width:29.40px">现</i><i style="width:29.40px">崩</i><i style="width:29.40px">溃</i></span>
<span class="t c" style="left:252px;top:852.4px;font-size:29.4px;line-height:40px"><i style="width:29.40px">（</i><i style="width:29.40px">奖</i><i style="width:29.40px">励</i><i style="width:29.40px">降</i><i style="width:29.40px">至</i><i style="width:29.40px">零</i><i style="width:29.40px">）</i></span>
<span class="t c" style="left:442.8px;top:852.4px;font-size:29.4px;line-height:40px"><i style="width:29.40px">，</i></span>
<span class="t c" style="left:477.2px;top:852.4px;font-size:29.4px;line-height:40px"><i style="width:29.40px">而</i></span>
<span class="t l" style="left:518.3px;top:850.8px;font-size:30.3px;line-height:40px;letter-spacing:-1.05px">LLDS</span>
<span class="t c" style="left:604.1px;top:852.4px;font-size:29.4px;line-height:40px"><i style="width:29.55px">则</i><i style="width:29.55px">稳</i><i style="width:29.55px">定</i><i style="width:29.55px">了</i><i style="width:29.55px">训</i><i style="width:29.55px">练</i><i style="width:29.55px">过</i><i style="width:29.55px">程</i><i style="width:29.55px">并</i><i style="width:29.55px">维</i><i style="width:29.55px">持</i><i style="width:29.55px">了</i><i style="width:29.55px">高</i><i style="width:29.55px">奖</i><i style="width:29.55px">励</i></span>
<span class="t c" style="left:1052.3px;top:852.4px;font-size:29.4px;line-height:40px"><i style="width:29.40px">。</i></span>
</div>
</body></html>
